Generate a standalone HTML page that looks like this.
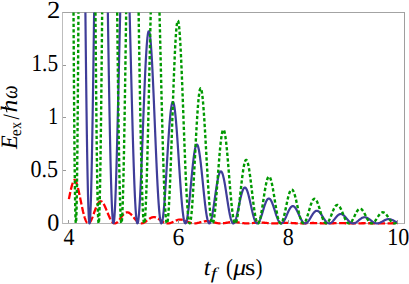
<!DOCTYPE html>
<html><head><meta charset="utf-8"><title>plot</title>
<style>
html,body{margin:0;padding:0;background:#fff;}
svg{display:block;}
text{font-family:"Liberation Serif",serif;fill:#000;}
</style></head>
<body>
<svg width="409" height="284" viewBox="0 0 409 284">
<rect x="0" y="0" width="409" height="284" fill="#ffffff"/>
<g stroke-width="1" fill="none">
<line x1="62.0" y1="12.5" x2="405.0" y2="12.5" stroke="#a3a3a3"/>
<line x1="62.0" y1="223.5" x2="405.0" y2="223.5" stroke="#b5b5b5"/>
<line x1="62.5" y1="12.5" x2="62.5" y2="223.5" stroke="#bdbdbd"/>
<line x1="404.5" y1="12.5" x2="404.5" y2="223.5" stroke="#9e9e9e"/>
</g>
<g fill="none" stroke-linejoin="round">
<path d="M68.90 199.15 L69.02 198.52 L69.15 197.89 L69.27 197.26 L69.39 196.64 L69.52 196.02 L69.64 195.41 L69.76 194.80 L69.89 194.20 L70.01 193.60 L70.13 193.01 L70.26 192.43 L70.38 191.85 L70.50 191.29 L70.63 190.73 L70.75 190.18 L70.87 189.65 L71.00 189.12 L71.12 188.60 L71.24 188.09 L71.37 187.60 L71.49 187.12 L71.65 186.49 L71.82 185.89 L71.98 185.31 L72.15 184.76 L72.31 184.24 L72.48 183.73 L72.64 183.26 L72.80 182.82 L73.01 182.30 L73.22 181.83 L73.42 181.40 L73.67 180.96 L73.91 180.58 L74.20 180.24 L74.53 179.96 L74.98 180.14 L75.27 180.50 L75.52 180.88 L75.76 181.34 L75.97 181.77 L76.18 182.24 L76.38 182.76 L76.55 183.21 L76.71 183.68 L76.87 184.18 L77.04 184.70 L77.20 185.24 L77.37 185.81 L77.53 186.40 L77.70 187.01 L77.86 187.64 L77.98 188.12 L78.11 188.62 L78.23 189.12 L78.35 189.64 L78.48 190.16 L78.60 190.69 L78.72 191.23 L78.85 191.78 L78.97 192.33 L79.09 192.89 L79.22 193.46 L79.34 194.03 L79.46 194.61 L79.59 195.19 L79.71 195.78 L79.83 196.37 L79.96 196.96 L80.08 197.56 L80.20 198.16 L80.33 198.76 L80.45 199.36 L80.57 199.96 L80.70 200.56 L80.82 201.16 L80.94 201.77 L81.07 202.37 L81.19 202.97 L81.31 203.57 L81.44 204.16 L81.56 204.75 L81.68 205.34 L81.81 205.93 L81.93 206.51 L82.05 207.09 L82.18 207.66 L82.30 208.23 L82.42 208.79 L82.55 209.34 L82.67 209.89 L82.79 210.43 L82.92 210.97 L83.04 211.49 L83.16 212.01 L83.29 212.52 L83.41 213.02 L83.53 213.51 L83.66 214.00 L83.82 214.63 L83.99 215.24 L84.15 215.83 L84.31 216.40 L84.48 216.96 L84.64 217.49 L84.81 218.00 L84.97 218.49 L85.14 218.96 L85.30 219.41 L85.51 219.94 L85.71 220.43 L85.92 220.88 L86.12 221.30 L86.37 221.75 L86.62 222.15 L86.90 222.54 L87.19 222.86 L87.52 223.14 L87.93 223.34 L88.51 223.38 L88.96 223.22 L89.33 222.96 L89.66 222.64 L89.95 222.30 L90.23 221.90 L90.48 221.52 L90.73 221.09 L90.97 220.63 L91.18 220.22 L91.38 219.80 L91.59 219.35 L91.80 218.88 L92.00 218.39 L92.21 217.89 L92.41 217.37 L92.62 216.84 L92.82 216.30 L92.99 215.86 L93.15 215.42 L93.32 214.97 L93.48 214.52 L93.65 214.06 L93.81 213.60 L93.97 213.14 L94.14 212.68 L94.30 212.22 L94.47 211.76 L94.63 211.31 L94.80 210.85 L94.96 210.40 L95.13 209.95 L95.29 209.51 L95.45 209.07 L95.66 208.54 L95.86 208.01 L96.07 207.50 L96.28 207.00 L96.48 206.51 L96.69 206.04 L96.89 205.59 L97.10 205.15 L97.30 204.73 L97.51 204.34 L97.76 203.89 L98.00 203.47 L98.25 203.09 L98.54 202.68 L98.82 202.33 L99.15 201.98 L99.48 201.70 L99.85 201.46 L100.30 201.28 L100.88 201.25 L101.37 201.38 L101.78 201.61 L102.11 201.88 L102.44 202.22 L102.73 202.57 L103.02 202.95 L103.26 203.32 L103.51 203.71 L103.76 204.13 L104.00 204.57 L104.25 205.04 L104.46 205.45 L104.66 205.87 L104.87 206.31 L105.07 206.76 L105.28 207.21 L105.48 207.68 L105.69 208.16 L105.89 208.65 L106.10 209.14 L106.31 209.64 L106.51 210.14 L106.72 210.65 L106.92 211.16 L107.13 211.67 L107.33 212.18 L107.54 212.69 L107.74 213.19 L107.95 213.70 L108.16 214.20 L108.36 214.69 L108.57 215.18 L108.77 215.66 L108.98 216.14 L109.18 216.60 L109.39 217.05 L109.59 217.50 L109.80 217.93 L110.01 218.35 L110.21 218.76 L110.46 219.23 L110.70 219.67 L110.95 220.10 L111.20 220.50 L111.44 220.88 L111.69 221.24 L111.98 221.62 L112.27 221.96 L112.59 222.31 L112.92 222.62 L113.29 222.90 L113.70 223.14 L114.16 223.31 L114.69 223.40 L115.27 223.35 L115.76 223.21 L116.17 223.01 L116.58 222.76 L116.95 222.48 L117.28 222.19 L117.61 221.88 L117.94 221.53 L118.23 221.21 L118.51 220.87 L118.80 220.52 L119.09 220.15 L119.38 219.77 L119.66 219.38 L119.95 218.99 L120.24 218.59 L120.53 218.19 L120.82 217.79 L121.10 217.39 L121.39 216.99 L121.68 216.60 L121.97 216.22 L122.25 215.85 L122.54 215.49 L122.83 215.14 L123.12 214.81 L123.41 214.49 L123.73 214.15 L124.06 213.84 L124.39 213.55 L124.76 213.26 L125.13 213.01 L125.54 212.78 L126.00 212.58 L126.49 212.44 L127.02 212.37 L127.64 212.38 L128.17 212.49 L128.63 212.65 L129.04 212.84 L129.45 213.08 L129.82 213.33 L130.19 213.62 L130.52 213.90 L130.85 214.20 L131.17 214.53 L131.50 214.87 L131.79 215.18 L132.08 215.50 L132.37 215.84 L132.65 216.18 L132.94 216.53 L133.23 216.88 L133.52 217.24 L133.81 217.59 L134.09 217.95 L134.38 218.31 L134.67 218.66 L134.96 219.01 L135.24 219.36 L135.53 219.69 L135.82 220.02 L136.11 220.34 L136.44 220.69 L136.76 221.03 L137.09 221.35 L137.42 221.65 L137.75 221.92 L138.12 222.21 L138.49 222.47 L138.90 222.72 L139.31 222.93 L139.77 223.12 L140.26 223.27 L140.79 223.37 L141.37 223.40 L141.94 223.35 L142.48 223.24 L142.97 223.09 L143.42 222.91 L143.83 222.72 L144.25 222.50 L144.66 222.25 L145.03 222.01 L145.40 221.76 L145.77 221.49 L146.14 221.22 L146.51 220.94 L146.88 220.65 L147.25 220.36 L147.62 220.07 L147.99 219.78 L148.36 219.50 L148.73 219.23 L149.10 218.96 L149.47 218.71 L149.84 218.47 L150.25 218.22 L150.66 217.99 L151.07 217.79 L151.52 217.59 L151.97 217.43 L152.47 217.29 L153.00 217.18 L153.58 217.13 L154.19 217.13 L154.77 217.20 L155.30 217.31 L155.80 217.45 L156.25 217.62 L156.70 217.81 L157.11 218.01 L157.52 218.22 L157.93 218.46 L158.34 218.71 L158.71 218.95 L159.08 219.19 L159.45 219.45 L159.82 219.70 L160.19 219.97 L160.56 220.23 L160.93 220.49 L161.30 220.75 L161.67 221.01 L162.04 221.26 L162.41 221.50 L162.78 221.73 L163.20 221.98 L163.61 222.21 L164.02 222.42 L164.43 222.62 L164.88 222.81 L165.33 222.98 L165.83 223.13 L166.32 223.25 L166.85 223.34 L167.43 223.39 L168.05 223.40 L168.62 223.36 L169.16 223.28 L169.69 223.17 L170.18 223.04 L170.68 222.89 L171.13 222.73 L171.58 222.55 L172.03 222.37 L172.48 222.17 L172.94 221.96 L173.35 221.77 L173.76 221.57 L174.17 221.38 L174.58 221.19 L174.99 221.00 L175.44 220.80 L175.90 220.60 L176.35 220.42 L176.80 220.26 L177.25 220.10 L177.75 219.96 L178.24 219.83 L178.77 219.73 L179.31 219.65 L179.88 219.60 L180.50 219.58 L181.12 219.61 L181.69 219.68 L182.23 219.77 L182.72 219.88 L183.21 220.01 L183.71 220.16 L184.16 220.31 L184.61 220.47 L185.06 220.65 L185.52 220.83 L185.97 221.02 L186.42 221.21 L186.87 221.41 L187.32 221.60 L187.78 221.79 L188.23 221.98 L188.68 222.17 L189.13 222.34 L189.58 222.51 L190.04 222.66 L190.53 222.82 L191.02 222.96 L191.52 223.08 L192.05 223.19 L192.59 223.28 L193.16 223.35 L193.74 223.39 L194.35 223.40 L194.97 223.38 L195.54 223.34 L196.12 223.27 L196.65 223.19 L197.19 223.09 L197.72 222.98 L198.22 222.87 L198.71 222.75 L199.20 222.62 L199.70 222.48 L200.19 222.35 L200.68 222.21 L201.18 222.08 L201.67 221.95 L202.16 221.82 L202.66 221.70 L203.15 221.60 L203.68 221.49 L204.22 221.40 L204.75 221.32 L205.33 221.26 L205.90 221.21 L206.52 221.19 L207.14 221.19 L207.75 221.21 L208.33 221.25 L208.90 221.31 L209.44 221.38 L209.97 221.46 L210.51 221.56 L211.04 221.67 L211.53 221.77 L212.03 221.89 L212.52 222.01 L213.01 222.13 L213.51 222.25 L214.00 222.38 L214.49 222.50 L214.99 222.62 L215.48 222.73 L215.97 222.84 L216.51 222.95 L217.04 223.05 L217.58 223.14 L218.11 223.22 L218.69 223.29 L219.26 223.34 L219.84 223.38 L220.45 223.40 L221.07 223.40 L221.69 223.38 L222.26 223.35 L222.84 223.30 L223.41 223.24 L223.99 223.17 L224.52 223.10 L225.06 223.02 L225.59 222.93 L226.13 222.84 L226.66 222.75 L227.20 222.66 L227.73 222.57 L228.26 222.48 L228.80 222.39 L229.33 222.31 L229.87 222.24 L230.44 222.17 L231.02 222.11 L231.59 222.06 L232.17 222.03 L232.79 222.00 L233.40 221.99 L234.02 222.00 L234.64 222.02 L235.21 222.06 L235.79 222.10 L236.36 222.16 L236.94 222.22 L237.47 222.29 L238.01 222.36 L238.54 222.44 L239.08 222.52 L239.61 222.61 L240.14 222.69 L240.68 222.78 L241.21 222.86 L241.75 222.94 L242.28 223.02 L242.82 223.09 L243.35 223.16 L243.93 223.22 L244.50 223.28 L245.08 223.32 L245.65 223.36 L246.23 223.38 L246.84 223.40 L247.46 223.40 L248.08 223.39 L248.69 223.37 L249.27 223.34 L249.84 223.31 L250.42 223.26 L251.00 223.21 L251.57 223.16 L252.15 223.10 L252.72 223.04 L253.30 222.97 L253.87 222.91 L254.45 222.85 L255.02 222.79 L255.60 222.73 L256.18 222.68 L256.75 222.63 L257.33 222.59 L257.90 222.56 L258.48 222.53 L259.09 222.51 L259.71 222.50 L260.33 222.51 L260.94 222.52 L261.56 222.54 L262.14 222.56 L262.71 222.60 L263.29 222.64 L263.86 222.68 L264.44 222.73 L265.01 222.78 L265.59 222.84 L266.16 222.90 L266.74 222.96 L267.31 223.02 L267.89 223.07 L268.47 223.13 L269.04 223.18 L269.62 223.23 L270.19 223.27 L270.77 223.31 L271.34 223.34 L271.92 223.36 L272.53 223.38 L273.15 223.40 L273.77 223.40 L274.38 223.40 L275.00 223.39 L275.62 223.37 L276.23 223.34 L276.81 223.32 L277.39 223.29 L277.96 223.25 L278.54 223.21 L279.11 223.17 L279.69 223.13 L280.26 223.09 L280.84 223.05 L281.41 223.01 L281.99 222.97 L282.56 222.94 L283.14 222.91 L283.72 222.88 L284.33 222.86 L284.95 222.84 L285.57 222.83 L286.18 222.82 L286.80 222.82 L287.41 222.83 L288.03 222.84 L288.65 222.86 L289.26 222.88 L289.84 222.91 L290.42 222.94 L290.99 222.97 L291.57 223.00 L292.14 223.04 L292.72 223.08 L293.29 223.12 L293.87 223.15 L294.44 223.19 L295.02 223.23 L295.59 223.26 L296.17 223.29 L296.75 223.32 L297.36 223.34 L297.98 223.36 L298.60 223.38 L299.21 223.39 L299.83 223.40 L300.45 223.40 L301.06 223.40 L301.68 223.39 L302.29 223.38 L302.91 223.36 L303.53 223.34 L304.14 223.31 L304.76 223.29 L305.34 223.26 L305.91 223.24 L306.49 223.21 L307.06 223.18 L307.64 223.16 L308.21 223.13 L308.83 223.11 L309.45 223.08 L310.06 223.06 L310.68 223.05 L311.30 223.03 L311.91 223.02 L312.53 223.02 L313.15 223.02 L313.76 223.02 L314.38 223.03 L315.00 223.04 L315.61 223.05 L316.23 223.07 L316.85 223.09 L317.46 223.11 L318.08 223.14 L318.70 223.16 L319.27 223.19 L319.85 223.21 L320.42 223.24 L321.04 223.26 L321.66 223.29 L322.27 223.31 L322.89 223.33 L323.51 223.35 L324.12 223.37 L324.74 223.38 L325.35 223.39 L325.97 223.40 L326.59 223.40 L327.20 223.40 L327.82 223.40 L328.44 223.39 L329.05 223.38 L329.67 223.37 L330.29 223.35 L330.90 223.34 L331.52 223.32 L332.14 223.30 L332.75 223.28 L333.37 223.26 L333.99 223.24 L334.60 223.22 L335.22 223.20 L335.84 223.19 L336.45 223.17 L337.07 223.16 L337.69 223.15 L338.30 223.15 L338.92 223.14 L339.54 223.14 L340.15 223.14 L340.77 223.15 L341.39 223.15 L342.00 223.16 L342.62 223.17 L343.24 223.19 L343.85 223.20 L344.47 223.22 L345.09 223.24 L345.70 223.25 L346.32 223.27 L346.94 223.29 L347.55 223.31 L348.17 223.32 L348.78 223.34 L349.40 223.35 L350.02 223.37 L350.63 223.38 L351.25 223.39 L351.87 223.39 L352.48 223.40 L353.10 223.40 L353.72 223.40 L354.33 223.40 L354.95 223.39 L355.57 223.39 L356.18 223.38 L356.80 223.37 L357.42 223.36 L358.03 223.34 L358.65 223.33 L359.27 223.32 L359.88 223.30 L360.50 223.29 L361.12 223.28 L361.73 223.26 L362.35 223.25 L362.97 223.24 L363.58 223.24 L364.20 223.23 L364.82 223.22 L365.43 223.22 L366.05 223.22 L366.67 223.22 L367.28 223.22 L367.90 223.23 L368.52 223.24 L369.13 223.24 L369.75 223.25 L370.37 223.26 L370.98 223.27 L371.60 223.29 L372.21 223.30 L372.83 223.31 L373.45 223.32 L374.06 223.34 L374.68 223.35 L375.30 223.36 L375.91 223.37 L376.53 223.38 L377.15 223.39 L377.76 223.39 L378.38 223.40 L379.00 223.40 L379.61 223.40 L380.23 223.40 L380.85 223.40 L381.46 223.39 L382.08 223.39 L382.70 223.38 L383.31 223.38 L383.93 223.37 L384.55 223.36 L385.16 223.35 L385.78 223.34 L386.40 223.33 L387.01 223.32 L387.63 223.31 L388.25 223.30 L388.86 223.30 L389.48 223.29 L390.10 223.28 L390.71 223.28 L391.33 223.28 L391.95 223.27 L392.56 223.27 L393.18 223.27 L393.80 223.28 L394.41 223.28 L395.03 223.28 L395.64 223.29 L396.26 223.30 L396.88 223.30 L397.49 223.31 L397.70 223.31" stroke="#ff0000" stroke-width="2.3" stroke-dasharray="7.2 2.5" stroke-dashoffset="0"/>
<path d="M85.41 12.50 L85.42 13.96 L85.47 17.97 L85.51 21.96 L85.55 25.92 L85.59 29.84 L85.63 33.73 L85.67 37.59 L85.71 41.42 L85.75 45.21 L85.79 48.97 L85.84 52.70 L85.88 56.39 L85.92 60.04 L85.96 63.67 L86.00 67.25 L86.04 70.81 L86.08 74.32 L86.12 77.80 L86.16 81.25 L86.21 84.65 L86.25 88.02 L86.29 91.36 L86.33 94.65 L86.37 97.91 L86.41 101.13 L86.45 104.31 L86.49 107.46 L86.53 110.56 L86.58 113.63 L86.62 116.66 L86.66 119.65 L86.70 122.59 L86.74 125.50 L86.78 128.37 L86.82 131.20 L86.86 133.99 L86.90 136.74 L86.95 139.45 L86.99 142.11 L87.03 144.74 L87.07 147.32 L87.11 149.86 L87.15 152.37 L87.19 154.83 L87.23 157.24 L87.27 159.62 L87.32 161.95 L87.36 164.24 L87.40 166.49 L87.44 168.70 L87.48 170.86 L87.52 172.98 L87.56 175.06 L87.60 177.09 L87.64 179.09 L87.69 181.03 L87.73 182.94 L87.77 184.80 L87.81 186.62 L87.85 188.39 L87.89 190.12 L87.93 191.81 L87.97 193.45 L88.01 195.05 L88.05 196.61 L88.10 198.12 L88.14 199.59 L88.18 201.01 L88.22 202.39 L88.26 203.73 L88.30 205.02 L88.34 206.27 L88.38 207.47 L88.42 208.63 L88.47 209.74 L88.51 210.82 L88.55 211.84 L88.59 212.83 L88.63 213.76 L88.67 214.66 L88.71 215.51 L88.75 216.32 L88.79 217.08 L88.84 217.80 L88.88 218.48 L88.92 219.11 L88.96 219.70 L89.04 220.74 L89.12 221.61 L89.21 222.31 L89.29 222.84 L89.45 223.37 L89.70 222.91 L89.82 222.11 L89.90 221.37 L89.99 220.47 L90.07 219.41 L90.11 218.82 L90.15 218.19 L90.19 217.51 L90.23 216.80 L90.27 216.05 L90.32 215.27 L90.36 214.44 L90.40 213.57 L90.44 212.67 L90.48 211.72 L90.52 210.74 L90.56 209.72 L90.60 208.67 L90.64 207.57 L90.69 206.44 L90.73 205.28 L90.77 204.07 L90.81 202.83 L90.85 201.56 L90.89 200.25 L90.93 198.90 L90.97 197.52 L91.01 196.10 L91.06 194.65 L91.10 193.16 L91.14 191.64 L91.18 190.09 L91.22 188.50 L91.26 186.88 L91.30 185.23 L91.34 183.54 L91.38 181.82 L91.43 180.07 L91.47 178.29 L91.51 176.48 L91.55 174.63 L91.59 172.76 L91.63 170.85 L91.67 168.92 L91.71 166.95 L91.75 164.96 L91.80 162.93 L91.84 160.88 L91.88 158.80 L91.92 156.69 L91.96 154.56 L92.00 152.39 L92.04 150.20 L92.08 147.98 L92.12 145.74 L92.17 143.47 L92.21 141.17 L92.25 138.85 L92.29 136.51 L92.33 134.14 L92.37 131.74 L92.41 129.32 L92.45 126.88 L92.49 124.42 L92.54 121.93 L92.58 119.42 L92.62 116.89 L92.66 114.34 L92.70 111.76 L92.74 109.17 L92.78 106.55 L92.82 103.92 L92.86 101.26 L92.91 98.59 L92.95 95.89 L92.99 93.18 L93.03 90.45 L93.07 87.71 L93.11 84.94 L93.15 82.16 L93.19 79.36 L93.23 76.55 L93.28 73.72 L93.32 70.87 L93.36 68.01 L93.40 65.14 L93.44 62.25 L93.48 59.35 L93.52 56.43 L93.56 53.51 L93.60 50.56 L93.65 47.61 L93.69 44.65 L93.73 41.67 L93.77 38.69 L93.81 35.69 L93.85 32.68 L93.89 29.67 L93.93 26.64 L93.97 23.61 L94.02 20.56 L94.06 17.51 L94.10 14.45 L94.12 12.50 M107.86 12.50 L107.87 13.21 L107.91 15.91 L107.95 18.61 L107.99 21.30 L108.03 23.98 L108.07 26.65 L108.11 29.32 L108.16 31.97 L108.20 34.61 L108.24 37.25 L108.28 39.87 L108.32 42.48 L108.36 45.09 L108.40 47.68 L108.44 50.26 L108.48 52.83 L108.53 55.38 L108.57 57.93 L108.61 60.46 L108.65 62.98 L108.69 65.49 L108.73 67.99 L108.77 70.47 L108.81 72.93 L108.85 75.39 L108.90 77.83 L108.94 80.26 L108.98 82.67 L109.02 85.06 L109.06 87.45 L109.10 89.81 L109.14 92.17 L109.18 94.50 L109.22 96.82 L109.27 99.13 L109.31 101.42 L109.35 103.69 L109.39 105.94 L109.43 108.18 L109.47 110.40 L109.51 112.61 L109.55 114.80 L109.59 116.97 L109.64 119.12 L109.68 121.25 L109.72 123.37 L109.76 125.47 L109.80 127.54 L109.84 129.61 L109.88 131.65 L109.92 133.67 L109.96 135.67 L110.01 137.66 L110.05 139.62 L110.09 141.56 L110.13 143.49 L110.17 145.39 L110.21 147.28 L110.25 149.14 L110.29 150.98 L110.33 152.81 L110.38 154.61 L110.42 156.39 L110.46 158.15 L110.50 159.89 L110.54 161.60 L110.58 163.30 L110.62 164.97 L110.66 166.62 L110.70 168.25 L110.75 169.86 L110.79 171.45 L110.83 173.01 L110.87 174.55 L110.91 176.07 L110.95 177.56 L110.99 179.04 L111.03 180.49 L111.07 181.91 L111.11 183.32 L111.16 184.70 L111.20 186.05 L111.24 187.39 L111.28 188.70 L111.32 189.99 L111.36 191.25 L111.40 192.49 L111.44 193.71 L111.48 194.90 L111.53 196.07 L111.57 197.21 L111.61 198.33 L111.65 199.43 L111.69 200.50 L111.73 201.55 L111.77 202.57 L111.81 203.57 L111.85 204.55 L111.90 205.50 L111.94 206.42 L111.98 207.33 L112.02 208.20 L112.06 209.06 L112.10 209.88 L112.14 210.69 L112.18 211.47 L112.22 212.22 L112.27 212.95 L112.31 213.66 L112.35 214.34 L112.39 214.99 L112.43 215.62 L112.47 216.23 L112.51 216.81 L112.59 217.90 L112.68 218.89 L112.76 219.78 L112.84 220.57 L112.92 221.27 L113.01 221.86 L113.13 222.57 L113.25 223.06 L113.75 222.87 L113.87 222.29 L113.99 221.50 L114.07 220.86 L114.16 220.13 L114.24 219.31 L114.32 218.40 L114.40 217.40 L114.49 216.32 L114.53 215.74 L114.57 215.15 L114.61 214.53 L114.65 213.89 L114.69 213.23 L114.73 212.55 L114.77 211.85 L114.81 211.13 L114.86 210.39 L114.90 209.63 L114.94 208.85 L114.98 208.05 L115.02 207.23 L115.06 206.38 L115.10 205.52 L115.14 204.64 L115.18 203.75 L115.23 202.83 L115.27 201.89 L115.31 200.94 L115.35 199.96 L115.39 198.97 L115.43 197.96 L115.47 196.93 L115.51 195.89 L115.55 194.82 L115.60 193.74 L115.64 192.64 L115.68 191.53 L115.72 190.39 L115.76 189.24 L115.80 188.08 L115.84 186.90 L115.88 185.70 L115.92 184.48 L115.97 183.25 L116.01 182.01 L116.05 180.75 L116.09 179.47 L116.13 178.18 L116.17 176.87 L116.21 175.55 L116.25 174.22 L116.29 172.87 L116.34 171.51 L116.38 170.13 L116.42 168.74 L116.46 167.33 L116.50 165.92 L116.54 164.49 L116.58 163.04 L116.62 161.59 L116.66 160.12 L116.71 158.64 L116.75 157.15 L116.79 155.64 L116.83 154.13 L116.87 152.60 L116.91 151.07 L116.95 149.52 L116.99 147.96 L117.03 146.39 L117.08 144.81 L117.12 143.22 L117.16 141.62 L117.20 140.01 L117.24 138.40 L117.28 136.77 L117.32 135.13 L117.36 133.49 L117.40 131.84 L117.45 130.18 L117.49 128.51 L117.53 126.83 L117.57 125.15 L117.61 123.46 L117.65 121.76 L117.69 120.06 L117.73 118.35 L117.77 116.63 L117.82 114.91 L117.86 113.18 L117.90 111.44 L117.94 109.70 L117.98 107.96 L118.02 106.21 L118.06 104.45 L118.10 102.70 L118.14 100.93 L118.19 99.17 L118.23 97.40 L118.27 95.62 L118.31 93.84 L118.35 92.06 L118.39 90.28 L118.43 88.49 L118.47 86.71 L118.51 84.91 L118.56 83.12 L118.60 81.33 L118.64 79.53 L118.68 77.74 L118.72 75.94 L118.76 74.14 L118.80 72.34 L118.84 70.54 L118.88 68.75 L118.92 66.95 L118.97 65.15 L119.01 63.35 L119.05 61.55 L119.09 59.76 L119.13 57.97 L119.17 56.17 L119.21 54.38 L119.25 52.59 L119.29 50.81 L119.34 49.02 L119.38 47.24 L119.42 45.46 L119.46 43.69 L119.50 41.92 L119.54 40.15 L119.58 38.38 L119.62 36.62 L119.66 34.87 L119.71 33.11 L119.75 31.37 L119.79 29.62 L119.83 27.89 L119.87 26.15 L119.91 24.43 L119.95 22.71 L119.99 20.99 L120.03 19.28 L120.08 17.58 L120.12 15.89 L120.16 14.20 L120.20 12.51 L120.20 12.50 M129.61 12.50 L129.65 14.19 L129.69 15.76 L129.74 17.33 L129.78 18.91 L129.82 20.49 L129.86 22.08 L129.90 23.67 L129.94 25.27 L129.98 26.87 L130.02 28.47 L130.06 30.08 L130.11 31.68 L130.15 33.30 L130.19 34.91 L130.23 36.53 L130.27 38.15 L130.31 39.77 L130.35 41.40 L130.39 43.02 L130.43 44.65 L130.48 46.28 L130.52 47.91 L130.56 49.55 L130.60 51.18 L130.64 52.81 L130.68 54.45 L130.72 56.08 L130.76 57.72 L130.80 59.36 L130.85 60.99 L130.89 62.63 L130.93 64.26 L130.97 65.90 L131.01 67.53 L131.05 69.17 L131.09 70.80 L131.13 72.43 L131.17 74.06 L131.22 75.69 L131.26 77.31 L131.30 78.94 L131.34 80.56 L131.38 82.18 L131.42 83.80 L131.46 85.41 L131.50 87.02 L131.54 88.63 L131.59 90.24 L131.63 91.84 L131.67 93.44 L131.71 95.03 L131.75 96.62 L131.79 98.21 L131.83 99.80 L131.87 101.37 L131.91 102.95 L131.96 104.52 L132.00 106.08 L132.04 107.65 L132.08 109.20 L132.12 110.75 L132.16 112.30 L132.20 113.83 L132.24 115.37 L132.28 116.89 L132.33 118.42 L132.37 119.93 L132.41 121.44 L132.45 122.94 L132.49 124.44 L132.53 125.93 L132.57 127.41 L132.61 128.88 L132.65 130.35 L132.70 131.81 L132.74 133.27 L132.78 134.71 L132.82 136.15 L132.86 137.58 L132.90 139.00 L132.94 140.41 L132.98 141.82 L133.02 143.21 L133.07 144.60 L133.11 145.98 L133.15 147.35 L133.19 148.71 L133.23 150.06 L133.27 151.41 L133.31 152.74 L133.35 154.06 L133.39 155.38 L133.44 156.68 L133.48 157.98 L133.52 159.26 L133.56 160.53 L133.60 161.80 L133.64 163.05 L133.68 164.30 L133.72 165.53 L133.76 166.75 L133.81 167.96 L133.85 169.16 L133.89 170.35 L133.93 171.53 L133.97 172.69 L134.01 173.85 L134.05 174.99 L134.09 176.13 L134.13 177.25 L134.17 178.36 L134.22 179.45 L134.26 180.54 L134.30 181.61 L134.34 182.67 L134.38 183.72 L134.42 184.76 L134.46 185.78 L134.50 186.79 L134.54 187.79 L134.59 188.78 L134.63 189.75 L134.67 190.72 L134.71 191.66 L134.75 192.60 L134.79 193.52 L134.83 194.43 L134.87 195.33 L134.91 196.21 L134.96 197.08 L135.00 197.94 L135.04 198.78 L135.08 199.61 L135.12 200.42 L135.16 201.23 L135.20 202.01 L135.24 202.79 L135.28 203.55 L135.33 204.30 L135.37 205.03 L135.41 205.75 L135.45 206.45 L135.49 207.15 L135.53 207.82 L135.57 208.49 L135.61 209.14 L135.65 209.77 L135.70 210.39 L135.74 211.00 L135.78 211.59 L135.82 212.17 L135.86 212.73 L135.94 213.82 L136.02 214.84 L136.11 215.81 L136.19 216.72 L136.27 217.57 L136.35 218.37 L136.44 219.10 L136.52 219.78 L136.60 220.40 L136.68 220.96 L136.81 221.69 L136.93 222.29 L137.09 222.89 L137.30 223.32 L137.71 223.10 L137.87 222.62 L138.00 222.11 L138.12 221.49 L138.24 220.74 L138.33 220.18 L138.41 219.56 L138.49 218.89 L138.57 218.18 L138.66 217.41 L138.74 216.59 L138.82 215.72 L138.90 214.81 L138.98 213.84 L139.07 212.83 L139.15 211.77 L139.23 210.67 L139.27 210.10 L139.31 209.52 L139.35 208.93 L139.40 208.33 L139.44 207.72 L139.48 207.10 L139.52 206.46 L139.56 205.82 L139.60 205.17 L139.64 204.50 L139.68 203.83 L139.72 203.14 L139.77 202.45 L139.81 201.74 L139.85 201.03 L139.89 200.30 L139.93 199.57 L139.97 198.82 L140.01 198.07 L140.05 197.31 L140.09 196.54 L140.14 195.76 L140.18 194.97 L140.22 194.17 L140.26 193.37 L140.30 192.55 L140.34 191.73 L140.38 190.90 L140.42 190.06 L140.46 189.21 L140.51 188.36 L140.55 187.49 L140.59 186.62 L140.63 185.75 L140.67 184.86 L140.71 183.97 L140.75 183.07 L140.79 182.16 L140.83 181.25 L140.88 180.33 L140.92 179.40 L140.96 178.47 L141.00 177.53 L141.04 176.58 L141.08 175.63 L141.12 174.67 L141.16 173.71 L141.20 172.74 L141.25 171.76 L141.29 170.78 L141.33 169.80 L141.37 168.80 L141.41 167.81 L141.45 166.81 L141.49 165.80 L141.53 164.79 L141.57 163.78 L141.61 162.76 L141.66 161.73 L141.70 160.71 L141.74 159.68 L141.78 158.64 L141.82 157.60 L141.86 156.56 L141.90 155.51 L141.94 154.46 L141.98 153.41 L142.03 152.36 L142.07 151.30 L142.11 150.24 L142.15 149.18 L142.19 148.11 L142.23 147.04 L142.27 145.97 L142.31 144.90 L142.35 143.83 L142.40 142.75 L142.44 141.68 L142.48 140.60 L142.52 139.52 L142.56 138.44 L142.60 137.35 L142.64 136.27 L142.68 135.19 L142.72 134.10 L142.77 133.02 L142.81 131.94 L142.85 130.85 L142.89 129.76 L142.93 128.68 L142.97 127.60 L143.01 126.51 L143.05 125.43 L143.09 124.34 L143.14 123.26 L143.18 122.18 L143.22 121.10 L143.26 120.02 L143.30 118.94 L143.34 117.86 L143.38 116.79 L143.42 115.72 L143.46 114.64 L143.51 113.57 L143.55 112.51 L143.59 111.44 L143.63 110.38 L143.67 109.32 L143.71 108.26 L143.75 107.20 L143.79 106.15 L143.83 105.10 L143.88 104.06 L143.92 103.01 L143.96 101.98 L144.00 100.94 L144.04 99.91 L144.08 98.88 L144.12 97.85 L144.16 96.83 L144.20 95.82 L144.25 94.80 L144.29 93.80 L144.33 92.79 L144.37 91.79 L144.41 90.80 L144.45 89.81 L144.49 88.83 L144.53 87.85 L144.57 86.87 L144.62 85.91 L144.66 84.94 L144.70 83.98 L144.74 83.03 L144.78 82.09 L144.82 81.15 L144.86 80.21 L144.90 79.28 L144.94 78.36 L144.99 77.45 L145.03 76.54 L145.07 75.63 L145.11 74.74 L145.15 73.85 L145.19 72.96 L145.23 72.09 L145.27 71.22 L145.31 70.36 L145.36 69.50 L145.40 68.66 L145.44 67.82 L145.48 66.99 L145.52 66.16 L145.56 65.34 L145.60 64.54 L145.64 63.73 L145.68 62.94 L145.73 62.16 L145.77 61.38 L145.81 60.61 L145.85 59.85 L145.89 59.10 L145.93 58.36 L145.97 57.62 L146.01 56.89 L146.05 56.18 L146.10 55.47 L146.14 54.77 L146.18 54.08 L146.22 53.40 L146.26 52.72 L146.30 52.06 L146.34 51.41 L146.38 50.76 L146.42 50.13 L146.47 49.50 L146.51 48.89 L146.55 48.28 L146.59 47.68 L146.63 47.09 L146.67 46.52 L146.71 45.95 L146.79 44.84 L146.88 43.78 L146.96 42.75 L147.04 41.77 L147.12 40.83 L147.21 39.93 L147.29 39.07 L147.37 38.25 L147.45 37.48 L147.53 36.75 L147.62 36.06 L147.70 35.42 L147.78 34.82 L147.86 34.26 L147.99 33.51 L148.11 32.86 L148.23 32.31 L148.40 31.74 L148.60 31.27 L149.14 31.36 L149.34 31.89 L149.51 32.52 L149.63 33.10 L149.75 33.78 L149.88 34.56 L149.96 35.13 L150.04 35.75 L150.12 36.40 L150.21 37.10 L150.29 37.83 L150.37 38.61 L150.45 39.43 L150.53 40.28 L150.62 41.18 L150.70 42.12 L150.78 43.09 L150.86 44.10 L150.95 45.15 L151.03 46.23 L151.11 47.35 L151.15 47.93 L151.19 48.51 L151.23 49.10 L151.27 49.70 L151.32 50.31 L151.36 50.92 L151.40 51.55 L151.44 52.18 L151.48 52.83 L151.52 53.48 L151.56 54.13 L151.60 54.80 L151.64 55.47 L151.69 56.16 L151.73 56.85 L151.77 57.54 L151.81 58.25 L151.85 58.96 L151.89 59.68 L151.93 60.41 L151.97 61.14 L152.01 61.89 L152.06 62.64 L152.10 63.39 L152.14 64.15 L152.18 64.92 L152.22 65.70 L152.26 66.48 L152.30 67.27 L152.34 68.07 L152.38 68.87 L152.43 69.68 L152.47 70.50 L152.51 71.32 L152.55 72.14 L152.59 72.98 L152.63 73.81 L152.67 74.66 L152.71 75.51 L152.75 76.36 L152.80 77.22 L152.84 78.09 L152.88 78.96 L152.92 79.84 L152.96 80.72 L153.00 81.60 L153.04 82.49 L153.08 83.39 L153.12 84.29 L153.17 85.19 L153.21 86.10 L153.25 87.01 L153.29 87.93 L153.33 88.85 L153.37 89.78 L153.41 90.71 L153.45 91.64 L153.49 92.58 L153.54 93.51 L153.58 94.46 L153.62 95.40 L153.66 96.35 L153.70 97.31 L153.74 98.26 L153.78 99.22 L153.82 100.18 L153.86 101.15 L153.91 102.11 L153.95 103.08 L153.99 104.05 L154.03 105.02 L154.07 106.00 L154.11 106.98 L154.15 107.96 L154.19 108.94 L154.23 109.92 L154.28 110.90 L154.32 111.89 L154.36 112.88 L154.40 113.87 L154.44 114.86 L154.48 115.85 L154.52 116.84 L154.56 117.83 L154.60 118.82 L154.65 119.82 L154.69 120.81 L154.73 121.80 L154.77 122.80 L154.81 123.79 L154.85 124.79 L154.89 125.78 L154.93 126.78 L154.97 127.77 L155.02 128.76 L155.06 129.76 L155.10 130.75 L155.14 131.74 L155.18 132.73 L155.22 133.72 L155.26 134.71 L155.30 135.70 L155.34 136.69 L155.39 137.67 L155.43 138.66 L155.47 139.64 L155.51 140.62 L155.55 141.60 L155.59 142.58 L155.63 143.55 L155.67 144.52 L155.71 145.49 L155.76 146.46 L155.80 147.43 L155.84 148.39 L155.88 149.35 L155.92 150.31 L155.96 151.27 L156.00 152.22 L156.04 153.17 L156.08 154.12 L156.13 155.06 L156.17 156.00 L156.21 156.94 L156.25 157.87 L156.29 158.80 L156.33 159.73 L156.37 160.65 L156.41 161.57 L156.45 162.49 L156.50 163.40 L156.54 164.30 L156.58 165.21 L156.62 166.10 L156.66 167.00 L156.70 167.89 L156.74 168.77 L156.78 169.65 L156.82 170.53 L156.86 171.40 L156.91 172.26 L156.95 173.12 L156.99 173.98 L157.03 174.83 L157.07 175.68 L157.11 176.52 L157.15 177.35 L157.19 178.18 L157.23 179.00 L157.28 179.82 L157.32 180.63 L157.36 181.44 L157.40 182.24 L157.44 183.03 L157.48 183.82 L157.52 184.60 L157.56 185.38 L157.60 186.15 L157.65 186.91 L157.69 187.67 L157.73 188.42 L157.77 189.16 L157.81 189.90 L157.85 190.63 L157.89 191.36 L157.93 192.07 L157.97 192.78 L158.02 193.49 L158.06 194.18 L158.10 194.87 L158.14 195.56 L158.18 196.23 L158.22 196.90 L158.26 197.56 L158.30 198.21 L158.34 198.86 L158.39 199.50 L158.43 200.13 L158.47 200.75 L158.51 201.37 L158.55 201.97 L158.59 202.57 L158.63 203.17 L158.67 203.75 L158.71 204.33 L158.76 204.89 L158.80 205.46 L158.88 206.55 L158.96 207.62 L159.04 208.65 L159.13 209.65 L159.21 210.61 L159.29 211.54 L159.37 212.44 L159.45 213.30 L159.54 214.13 L159.62 214.93 L159.70 215.69 L159.78 216.41 L159.87 217.10 L159.95 217.75 L160.03 218.37 L160.11 218.96 L160.19 219.50 L160.32 220.26 L160.44 220.93 L160.56 221.52 L160.69 222.03 L160.85 222.58 L161.06 223.08 L161.35 223.39 L161.72 223.16 L161.92 222.73 L162.09 222.23 L162.25 221.60 L162.37 221.05 L162.50 220.42 L162.62 219.71 L162.74 218.94 L162.83 218.39 L162.91 217.81 L162.99 217.20 L163.07 216.55 L163.15 215.88 L163.24 215.19 L163.32 214.46 L163.40 213.71 L163.48 212.93 L163.57 212.12 L163.65 211.29 L163.73 210.43 L163.81 209.54 L163.89 208.64 L163.98 207.71 L164.06 206.75 L164.14 205.77 L164.22 204.77 L164.31 203.75 L164.39 202.71 L164.47 201.65 L164.55 200.57 L164.63 199.47 L164.72 198.35 L164.76 197.78 L164.80 197.21 L164.84 196.64 L164.88 196.06 L164.92 195.48 L164.96 194.89 L165.00 194.30 L165.04 193.70 L165.09 193.11 L165.13 192.50 L165.17 191.90 L165.21 191.29 L165.25 190.67 L165.29 190.06 L165.33 189.44 L165.37 188.81 L165.41 188.19 L165.46 187.56 L165.50 186.93 L165.54 186.29 L165.58 185.65 L165.62 185.01 L165.66 184.37 L165.70 183.72 L165.74 183.07 L165.78 182.42 L165.83 181.77 L165.87 181.12 L165.91 180.46 L165.95 179.80 L165.99 179.14 L166.03 178.47 L166.07 177.81 L166.11 177.14 L166.15 176.47 L166.20 175.80 L166.24 175.13 L166.28 174.46 L166.32 173.79 L166.36 173.11 L166.40 172.43 L166.44 171.76 L166.48 171.08 L166.52 170.40 L166.57 169.72 L166.61 169.04 L166.65 168.36 L166.69 167.68 L166.73 167.00 L166.77 166.32 L166.81 165.63 L166.85 164.95 L166.89 164.27 L166.94 163.59 L166.98 162.90 L167.02 162.22 L167.06 161.54 L167.10 160.86 L167.14 160.18 L167.18 159.50 L167.22 158.82 L167.26 158.14 L167.31 157.46 L167.35 156.78 L167.39 156.11 L167.43 155.43 L167.47 154.76 L167.51 154.08 L167.55 153.41 L167.59 152.74 L167.63 152.07 L167.68 151.41 L167.72 150.74 L167.76 150.08 L167.80 149.41 L167.84 148.75 L167.88 148.09 L167.92 147.44 L167.96 146.78 L168.00 146.13 L168.05 145.48 L168.09 144.83 L168.13 144.19 L168.17 143.55 L168.21 142.91 L168.25 142.27 L168.29 141.63 L168.33 141.00 L168.37 140.37 L168.42 139.75 L168.46 139.12 L168.50 138.50 L168.54 137.89 L168.58 137.27 L168.62 136.66 L168.66 136.06 L168.70 135.45 L168.74 134.85 L168.79 134.26 L168.83 133.67 L168.87 133.08 L168.91 132.49 L168.95 131.91 L168.99 131.33 L169.03 130.76 L169.07 130.19 L169.11 129.63 L169.16 129.07 L169.24 127.96 L169.32 126.87 L169.40 125.79 L169.48 124.74 L169.57 123.70 L169.65 122.69 L169.73 121.69 L169.81 120.71 L169.90 119.76 L169.98 118.83 L170.06 117.92 L170.14 117.03 L170.22 116.16 L170.31 115.31 L170.39 114.49 L170.47 113.70 L170.55 112.92 L170.64 112.17 L170.72 111.45 L170.80 110.75 L170.88 110.08 L170.96 109.43 L171.05 108.80 L171.13 108.21 L171.21 107.64 L171.29 107.09 L171.42 106.32 L171.54 105.62 L171.66 104.97 L171.79 104.39 L171.91 103.87 L172.07 103.28 L172.24 102.79 L172.44 102.35 L172.73 102.02 L173.18 102.22 L173.43 102.68 L173.59 103.13 L173.76 103.69 L173.88 104.18 L174.01 104.73 L174.13 105.33 L174.25 106.00 L174.38 106.73 L174.50 107.51 L174.58 108.06 L174.66 108.64 L174.75 109.24 L174.83 109.87 L174.91 110.52 L174.99 111.19 L175.07 111.88 L175.16 112.60 L175.24 113.34 L175.32 114.11 L175.40 114.89 L175.49 115.70 L175.57 116.52 L175.65 117.37 L175.73 118.23 L175.81 119.12 L175.90 120.03 L175.98 120.95 L176.06 121.89 L176.14 122.85 L176.23 123.83 L176.31 124.82 L176.39 125.83 L176.47 126.86 L176.55 127.90 L176.64 128.96 L176.72 130.03 L176.80 131.11 L176.88 132.21 L176.97 133.32 L177.01 133.88 L177.05 134.44 L177.09 135.01 L177.13 135.58 L177.17 136.15 L177.21 136.72 L177.25 137.30 L177.29 137.88 L177.34 138.46 L177.38 139.05 L177.42 139.64 L177.46 140.23 L177.50 140.82 L177.54 141.41 L177.58 142.01 L177.62 142.61 L177.66 143.21 L177.71 143.81 L177.75 144.42 L177.79 145.02 L177.83 145.63 L177.87 146.24 L177.91 146.85 L177.95 147.46 L177.99 148.08 L178.03 148.69 L178.08 149.31 L178.12 149.93 L178.16 150.55 L178.20 151.17 L178.24 151.79 L178.28 152.41 L178.32 153.04 L178.36 153.66 L178.40 154.29 L178.45 154.91 L178.49 155.54 L178.53 156.17 L178.57 156.80 L178.61 157.42 L178.65 158.05 L178.69 158.68 L178.73 159.31 L178.77 159.94 L178.82 160.57 L178.86 161.20 L178.90 161.83 L178.94 162.46 L178.98 163.09 L179.02 163.72 L179.06 164.35 L179.10 164.97 L179.14 165.60 L179.19 166.23 L179.23 166.86 L179.27 167.48 L179.31 168.11 L179.35 168.73 L179.39 169.36 L179.43 169.98 L179.47 170.60 L179.51 171.22 L179.56 171.84 L179.60 172.46 L179.64 173.08 L179.68 173.69 L179.72 174.31 L179.76 174.92 L179.80 175.53 L179.84 176.14 L179.88 176.75 L179.92 177.36 L179.97 177.96 L180.01 178.57 L180.05 179.17 L180.09 179.77 L180.13 180.36 L180.17 180.96 L180.21 181.55 L180.25 182.14 L180.29 182.73 L180.34 183.32 L180.38 183.90 L180.42 184.48 L180.46 185.06 L180.50 185.64 L180.54 186.21 L180.58 186.78 L180.62 187.35 L180.66 187.92 L180.71 188.48 L180.75 189.04 L180.83 190.15 L180.91 191.25 L180.99 192.34 L181.08 193.41 L181.16 194.47 L181.24 195.51 L181.32 196.55 L181.40 197.56 L181.49 198.56 L181.57 199.55 L181.65 200.52 L181.73 201.47 L181.82 202.41 L181.90 203.33 L181.98 204.23 L182.06 205.11 L182.14 205.98 L182.23 206.83 L182.31 207.66 L182.39 208.47 L182.47 209.26 L182.56 210.03 L182.64 210.79 L182.72 211.52 L182.80 212.23 L182.88 212.92 L182.97 213.59 L183.05 214.24 L183.13 214.87 L183.21 215.48 L183.30 216.06 L183.38 216.63 L183.46 217.17 L183.54 217.69 L183.67 218.43 L183.79 219.12 L183.91 219.76 L184.04 220.34 L184.16 220.88 L184.28 221.36 L184.45 221.93 L184.61 222.40 L184.82 222.87 L185.06 223.23 L185.56 223.35 L185.89 222.98 L186.09 222.57 L186.30 222.03 L186.46 221.50 L186.63 220.89 L186.75 220.39 L186.87 219.83 L187.00 219.24 L187.12 218.60 L187.24 217.92 L187.37 217.20 L187.49 216.44 L187.57 215.91 L187.65 215.37 L187.73 214.81 L187.82 214.23 L187.90 213.64 L187.98 213.04 L188.06 212.42 L188.15 211.78 L188.23 211.13 L188.31 210.46 L188.39 209.79 L188.47 209.10 L188.56 208.39 L188.64 207.68 L188.72 206.95 L188.80 206.21 L188.89 205.46 L188.97 204.70 L189.05 203.93 L189.13 203.15 L189.21 202.36 L189.30 201.56 L189.38 200.76 L189.46 199.94 L189.54 199.12 L189.63 198.29 L189.71 197.45 L189.79 196.61 L189.87 195.76 L189.95 194.91 L190.04 194.05 L190.12 193.18 L190.20 192.31 L190.28 191.44 L190.37 190.57 L190.45 189.69 L190.53 188.81 L190.61 187.93 L190.69 187.04 L190.78 186.16 L190.86 185.27 L190.94 184.39 L191.02 183.50 L191.11 182.62 L191.19 181.74 L191.27 180.86 L191.35 179.98 L191.43 179.10 L191.52 178.23 L191.60 177.36 L191.68 176.49 L191.76 175.63 L191.85 174.77 L191.93 173.92 L192.01 173.07 L192.09 172.23 L192.17 171.39 L192.26 170.57 L192.34 169.75 L192.42 168.93 L192.50 168.13 L192.59 167.33 L192.67 166.54 L192.75 165.76 L192.83 164.99 L192.91 164.23 L193.00 163.47 L193.08 162.73 L193.16 162.00 L193.24 161.28 L193.33 160.58 L193.41 159.88 L193.49 159.20 L193.57 158.53 L193.65 157.87 L193.74 157.22 L193.82 156.59 L193.90 155.97 L193.98 155.36 L194.07 154.77 L194.15 154.19 L194.23 153.63 L194.31 153.08 L194.39 152.55 L194.52 151.78 L194.64 151.05 L194.76 150.35 L194.89 149.69 L195.01 149.06 L195.13 148.47 L195.26 147.92 L195.38 147.41 L195.54 146.80 L195.71 146.25 L195.87 145.77 L196.08 145.28 L196.33 144.83 L196.65 144.51 L197.19 144.63 L197.48 145.01 L197.68 145.41 L197.89 145.93 L198.05 146.42 L198.22 146.98 L198.38 147.61 L198.50 148.13 L198.63 148.68 L198.75 149.26 L198.87 149.88 L199.00 150.54 L199.12 151.23 L199.24 151.95 L199.37 152.70 L199.45 153.22 L199.53 153.76 L199.61 154.30 L199.70 154.86 L199.78 155.44 L199.86 156.02 L199.94 156.62 L200.03 157.23 L200.11 157.85 L200.19 158.48 L200.27 159.13 L200.35 159.78 L200.44 160.45 L200.52 161.12 L200.60 161.81 L200.68 162.50 L200.77 163.20 L200.85 163.92 L200.93 164.64 L201.01 165.36 L201.09 166.10 L201.18 166.85 L201.26 167.60 L201.34 168.35 L201.42 169.12 L201.51 169.89 L201.59 170.67 L201.67 171.45 L201.75 172.23 L201.83 173.03 L201.92 173.82 L202.00 174.62 L202.08 175.42 L202.16 176.23 L202.25 177.04 L202.33 177.85 L202.41 178.67 L202.49 179.48 L202.57 180.30 L202.66 181.12 L202.74 181.94 L202.82 182.76 L202.90 183.58 L202.98 184.39 L203.07 185.21 L203.15 186.03 L203.23 186.85 L203.31 187.66 L203.40 188.47 L203.48 189.28 L203.56 190.09 L203.64 190.89 L203.72 191.69 L203.81 192.49 L203.89 193.28 L203.97 194.07 L204.05 194.85 L204.14 195.63 L204.22 196.40 L204.30 197.17 L204.38 197.93 L204.46 198.68 L204.55 199.43 L204.63 200.17 L204.71 200.91 L204.79 201.63 L204.88 202.35 L204.96 203.06 L205.04 203.76 L205.12 204.45 L205.20 205.13 L205.29 205.81 L205.37 206.47 L205.45 207.12 L205.53 207.77 L205.62 208.40 L205.70 209.02 L205.78 209.64 L205.86 210.24 L205.94 210.83 L206.03 211.41 L206.11 211.97 L206.19 212.53 L206.27 213.07 L206.36 213.60 L206.44 214.12 L206.56 214.87 L206.68 215.60 L206.81 216.29 L206.93 216.95 L207.05 217.59 L207.18 218.19 L207.30 218.76 L207.42 219.30 L207.55 219.81 L207.71 220.43 L207.88 221.00 L208.04 221.50 L208.21 221.95 L208.41 222.43 L208.66 222.87 L208.95 223.22 L209.40 223.40 L209.81 223.17 L210.10 222.80 L210.34 222.35 L210.55 221.88 L210.71 221.44 L210.88 220.95 L211.04 220.41 L211.21 219.83 L211.37 219.19 L211.49 218.69 L211.62 218.16 L211.74 217.61 L211.86 217.03 L211.99 216.43 L212.11 215.81 L212.23 215.16 L212.36 214.50 L212.48 213.82 L212.60 213.12 L212.73 212.40 L212.85 211.66 L212.97 210.91 L213.10 210.15 L213.18 209.63 L213.26 209.10 L213.34 208.58 L213.43 208.04 L213.51 207.50 L213.59 206.95 L213.67 206.40 L213.75 205.85 L213.84 205.29 L213.92 204.73 L214.00 204.17 L214.08 203.60 L214.17 203.03 L214.25 202.45 L214.33 201.88 L214.41 201.30 L214.49 200.72 L214.58 200.14 L214.66 199.56 L214.74 198.98 L214.82 198.40 L214.91 197.82 L214.99 197.23 L215.07 196.65 L215.15 196.07 L215.23 195.49 L215.32 194.91 L215.40 194.33 L215.48 193.76 L215.56 193.18 L215.65 192.61 L215.73 192.05 L215.81 191.48 L215.89 190.92 L215.97 190.36 L216.06 189.81 L216.14 189.26 L216.22 188.71 L216.30 188.17 L216.39 187.63 L216.47 187.10 L216.55 186.57 L216.63 186.05 L216.76 185.28 L216.88 184.52 L217.00 183.78 L217.13 183.06 L217.25 182.35 L217.37 181.65 L217.50 180.98 L217.62 180.32 L217.74 179.68 L217.87 179.07 L217.99 178.47 L218.11 177.89 L218.23 177.34 L218.36 176.80 L218.48 176.29 L218.60 175.81 L218.77 175.19 L218.93 174.62 L219.10 174.09 L219.26 173.61 L219.43 173.18 L219.63 172.70 L219.84 172.29 L220.08 171.90 L220.37 171.58 L220.78 171.38 L221.28 171.53 L221.61 171.87 L221.85 172.24 L222.10 172.72 L222.30 173.19 L222.51 173.74 L222.67 174.22 L222.84 174.75 L223.00 175.31 L223.17 175.92 L223.29 176.40 L223.41 176.90 L223.54 177.42 L223.66 177.96 L223.78 178.52 L223.91 179.10 L224.03 179.70 L224.15 180.31 L224.28 180.95 L224.40 181.59 L224.52 182.26 L224.65 182.94 L224.77 183.63 L224.89 184.33 L225.02 185.05 L225.14 185.78 L225.26 186.52 L225.39 187.28 L225.51 188.04 L225.63 188.81 L225.76 189.58 L225.84 190.11 L225.92 190.63 L226.00 191.16 L226.09 191.69 L226.17 192.22 L226.25 192.76 L226.33 193.29 L226.41 193.83 L226.50 194.37 L226.58 194.91 L226.66 195.45 L226.74 196.00 L226.83 196.54 L226.91 197.08 L226.99 197.62 L227.07 198.16 L227.15 198.70 L227.24 199.24 L227.32 199.78 L227.40 200.32 L227.48 200.86 L227.57 201.39 L227.65 201.92 L227.73 202.45 L227.81 202.98 L227.89 203.51 L227.98 204.03 L228.06 204.55 L228.18 205.32 L228.31 206.08 L228.43 206.84 L228.55 207.58 L228.68 208.31 L228.80 209.04 L228.92 209.75 L229.05 210.45 L229.17 211.13 L229.29 211.81 L229.42 212.46 L229.54 213.11 L229.66 213.73 L229.79 214.35 L229.91 214.94 L230.03 215.52 L230.16 216.08 L230.28 216.62 L230.40 217.15 L230.53 217.65 L230.65 218.14 L230.81 218.75 L230.98 219.34 L231.14 219.88 L231.31 220.39 L231.47 220.86 L231.68 221.39 L231.88 221.86 L232.09 222.27 L232.33 222.68 L232.62 223.04 L232.99 223.32 L233.57 223.36 L233.94 223.12 L234.22 222.81 L234.47 222.45 L234.72 222.01 L234.92 221.58 L235.13 221.10 L235.33 220.57 L235.50 220.11 L235.66 219.62 L235.83 219.10 L235.99 218.55 L236.16 217.98 L236.32 217.38 L236.49 216.76 L236.61 216.28 L236.73 215.78 L236.86 215.28 L236.98 214.76 L237.10 214.24 L237.23 213.70 L237.35 213.16 L237.47 212.61 L237.60 212.05 L237.72 211.48 L237.84 210.91 L237.97 210.33 L238.09 209.75 L238.21 209.16 L238.34 208.57 L238.46 207.97 L238.58 207.38 L238.71 206.78 L238.83 206.18 L238.95 205.58 L239.08 204.98 L239.20 204.38 L239.32 203.78 L239.45 203.19 L239.57 202.60 L239.69 202.01 L239.82 201.43 L239.94 200.85 L240.06 200.27 L240.19 199.71 L240.31 199.15 L240.43 198.59 L240.56 198.05 L240.68 197.51 L240.80 196.99 L240.93 196.47 L241.05 195.96 L241.17 195.46 L241.29 194.98 L241.46 194.35 L241.62 193.74 L241.79 193.16 L241.95 192.60 L242.12 192.07 L242.28 191.56 L242.45 191.08 L242.61 190.62 L242.82 190.10 L243.02 189.62 L243.23 189.18 L243.47 188.73 L243.72 188.34 L244.01 187.99 L244.34 187.71 L244.79 187.54 L245.32 187.66 L245.69 187.96 L245.98 188.30 L246.23 188.67 L246.47 189.11 L246.68 189.53 L246.89 190.00 L247.09 190.50 L247.26 190.94 L247.42 191.40 L247.58 191.89 L247.75 192.40 L247.91 192.93 L248.08 193.49 L248.24 194.06 L248.41 194.66 L248.57 195.28 L248.73 195.91 L248.86 196.40 L248.98 196.89 L249.10 197.39 L249.23 197.91 L249.35 198.42 L249.47 198.95 L249.60 199.48 L249.72 200.01 L249.84 200.56 L249.97 201.10 L250.09 201.65 L250.21 202.20 L250.34 202.76 L250.46 203.32 L250.58 203.88 L250.71 204.44 L250.83 205.00 L250.95 205.56 L251.08 206.12 L251.20 206.68 L251.32 207.24 L251.45 207.79 L251.57 208.35 L251.69 208.90 L251.82 209.44 L251.94 209.98 L252.06 210.52 L252.19 211.05 L252.31 211.58 L252.43 212.10 L252.56 212.61 L252.68 213.11 L252.80 213.61 L252.93 214.10 L253.05 214.58 L253.22 215.21 L253.38 215.82 L253.54 216.41 L253.71 216.98 L253.87 217.53 L254.04 218.06 L254.20 218.57 L254.37 219.06 L254.53 219.52 L254.70 219.96 L254.90 220.48 L255.11 220.95 L255.31 221.39 L255.56 221.86 L255.81 222.26 L256.09 222.66 L256.38 222.97 L256.75 223.25 L257.24 223.40 L257.78 223.28 L258.15 223.03 L258.48 222.70 L258.76 222.33 L259.01 221.95 L259.26 221.52 L259.50 221.05 L259.71 220.61 L259.92 220.15 L260.12 219.66 L260.33 219.14 L260.53 218.59 L260.70 218.14 L260.86 217.67 L261.03 217.19 L261.19 216.70 L261.35 216.20 L261.52 215.68 L261.68 215.16 L261.85 214.63 L262.01 214.09 L262.18 213.55 L262.34 213.00 L262.51 212.45 L262.67 211.90 L262.83 211.34 L263.00 210.79 L263.16 210.23 L263.33 209.68 L263.49 209.13 L263.66 208.59 L263.82 208.05 L263.98 207.52 L264.15 206.99 L264.31 206.47 L264.48 205.96 L264.64 205.47 L264.81 204.98 L264.97 204.50 L265.14 204.04 L265.30 203.59 L265.51 203.05 L265.71 202.54 L265.92 202.05 L266.12 201.59 L266.33 201.15 L266.53 200.75 L266.78 200.30 L267.03 199.90 L267.31 199.50 L267.60 199.16 L267.93 198.86 L268.30 198.63 L268.79 198.50 L269.33 198.60 L269.74 198.85 L270.07 199.14 L270.36 199.48 L270.64 199.87 L270.89 200.26 L271.14 200.69 L271.38 201.17 L271.59 201.59 L271.79 202.04 L272.00 202.52 L272.21 203.01 L272.41 203.53 L272.62 204.07 L272.78 204.52 L272.95 204.97 L273.11 205.44 L273.27 205.92 L273.44 206.40 L273.60 206.89 L273.77 207.39 L273.93 207.90 L274.10 208.41 L274.26 208.92 L274.43 209.43 L274.59 209.95 L274.75 210.47 L274.92 210.99 L275.08 211.51 L275.25 212.03 L275.41 212.54 L275.58 213.06 L275.74 213.56 L275.91 214.06 L276.07 214.56 L276.23 215.05 L276.40 215.53 L276.56 216.01 L276.73 216.47 L276.89 216.93 L277.06 217.37 L277.26 217.91 L277.47 218.43 L277.67 218.93 L277.88 219.40 L278.08 219.86 L278.29 220.29 L278.50 220.69 L278.74 221.15 L278.99 221.56 L279.23 221.94 L279.52 222.32 L279.81 222.65 L280.14 222.95 L280.51 223.20 L280.96 223.37 L281.58 223.36 L282.03 223.19 L282.40 222.95 L282.73 222.66 L283.06 222.31 L283.35 221.94 L283.63 221.54 L283.88 221.15 L284.13 220.74 L284.37 220.30 L284.62 219.84 L284.83 219.43 L285.03 219.01 L285.24 218.58 L285.44 218.14 L285.65 217.69 L285.85 217.23 L286.06 216.76 L286.26 216.28 L286.47 215.81 L286.68 215.33 L286.88 214.84 L287.09 214.36 L287.29 213.88 L287.50 213.41 L287.70 212.94 L287.91 212.47 L288.11 212.01 L288.32 211.56 L288.52 211.13 L288.73 210.70 L288.94 210.28 L289.14 209.88 L289.39 209.42 L289.63 208.99 L289.88 208.58 L290.13 208.19 L290.37 207.84 L290.66 207.46 L290.95 207.13 L291.28 206.80 L291.65 206.51 L292.06 206.27 L292.55 206.12 L293.17 206.14 L293.62 206.30 L294.03 206.53 L294.40 206.82 L294.73 207.14 L295.02 207.47 L295.31 207.84 L295.59 208.24 L295.84 208.61 L296.09 209.01 L296.33 209.43 L296.58 209.88 L296.83 210.34 L297.03 210.74 L297.24 211.15 L297.44 211.57 L297.65 211.99 L297.86 212.43 L298.06 212.87 L298.27 213.32 L298.47 213.77 L298.68 214.22 L298.88 214.67 L299.09 215.12 L299.29 215.57 L299.50 216.02 L299.71 216.46 L299.91 216.90 L300.12 217.33 L300.32 217.76 L300.53 218.17 L300.73 218.58 L300.94 218.98 L301.19 219.44 L301.43 219.88 L301.68 220.30 L301.93 220.70 L302.17 221.07 L302.46 221.48 L302.75 221.85 L303.03 222.18 L303.36 222.52 L303.69 222.80 L304.06 223.05 L304.47 223.25 L304.97 223.38 L305.58 223.37 L306.08 223.22 L306.49 223.01 L306.86 222.75 L307.19 222.48 L307.52 222.16 L307.80 221.84 L308.09 221.50 L308.38 221.13 L308.67 220.74 L308.91 220.38 L309.16 220.01 L309.41 219.63 L309.65 219.24 L309.90 218.83 L310.15 218.42 L310.39 218.01 L310.64 217.59 L310.89 217.17 L311.13 216.75 L311.38 216.33 L311.63 215.92 L311.87 215.51 L312.12 215.11 L312.37 214.72 L312.61 214.34 L312.86 213.97 L313.11 213.62 L313.39 213.22 L313.68 212.85 L313.97 212.51 L314.26 212.19 L314.59 211.86 L314.91 211.57 L315.28 211.30 L315.70 211.06 L316.15 210.88 L316.68 210.78 L317.26 210.81 L317.75 210.95 L318.16 211.14 L318.53 211.37 L318.90 211.66 L319.23 211.95 L319.56 212.28 L319.85 212.60 L320.13 212.95 L320.42 213.31 L320.71 213.70 L321.00 214.10 L321.24 214.46 L321.49 214.83 L321.74 215.21 L321.98 215.59 L322.23 215.98 L322.48 216.38 L322.72 216.77 L322.97 217.17 L323.22 217.57 L323.46 217.96 L323.71 218.35 L323.96 218.74 L324.20 219.11 L324.45 219.48 L324.70 219.84 L324.99 220.25 L325.27 220.64 L325.56 221.00 L325.85 221.35 L326.14 221.68 L326.46 222.02 L326.79 222.32 L327.16 222.62 L327.53 222.88 L327.94 223.10 L328.40 223.28 L328.93 223.39 L329.55 223.38 L330.04 223.27 L330.49 223.10 L330.90 222.88 L331.27 222.64 L331.64 222.35 L331.97 222.07 L332.30 221.76 L332.63 221.43 L332.96 221.08 L333.25 220.75 L333.53 220.41 L333.82 220.07 L334.11 219.71 L334.40 219.35 L334.69 218.99 L334.97 218.62 L335.26 218.26 L335.55 217.90 L335.84 217.54 L336.12 217.19 L336.41 216.85 L336.70 216.52 L336.99 216.21 L337.32 215.87 L337.65 215.55 L337.97 215.25 L338.34 214.95 L338.71 214.69 L339.13 214.44 L339.54 214.24 L339.99 214.09 L340.52 213.98 L341.14 213.98 L341.63 214.09 L342.08 214.26 L342.50 214.47 L342.91 214.73 L343.28 215.00 L343.65 215.30 L343.98 215.59 L344.30 215.91 L344.63 216.24 L344.96 216.59 L345.25 216.91 L345.54 217.24 L345.83 217.57 L346.11 217.91 L346.40 218.25 L346.69 218.59 L346.98 218.94 L347.26 219.28 L347.55 219.62 L347.84 219.95 L348.13 220.27 L348.41 220.59 L348.74 220.93 L349.07 221.26 L349.40 221.58 L349.73 221.87 L350.10 222.17 L350.47 222.44 L350.84 222.69 L351.25 222.91 L351.70 223.12 L352.16 223.26 L352.69 223.37 L353.27 223.40 L353.84 223.34 L354.33 223.23 L354.79 223.07 L355.24 222.88 L355.65 222.66 L356.06 222.41 L356.43 222.17 L356.80 221.91 L357.17 221.63 L357.54 221.34 L357.91 221.04 L358.24 220.77 L358.57 220.49 L358.90 220.21 L359.23 219.94 L359.55 219.67 L359.92 219.37 L360.29 219.08 L360.66 218.81 L361.03 218.55 L361.40 218.31 L361.82 218.06 L362.23 217.85 L362.68 217.64 L363.13 217.48 L363.62 217.35 L364.16 217.26 L364.73 217.24 L365.31 217.28 L365.84 217.38 L366.34 217.52 L366.79 217.69 L367.24 217.90 L367.65 218.11 L368.06 218.35 L368.43 218.59 L368.80 218.84 L369.17 219.10 L369.54 219.37 L369.91 219.65 L370.28 219.94 L370.65 220.22 L371.02 220.51 L371.39 220.80 L371.76 221.08 L372.13 221.35 L372.50 221.62 L372.87 221.87 L373.24 222.11 L373.65 222.36 L374.06 222.58 L374.48 222.78 L374.93 222.97 L375.38 223.13 L375.87 223.26 L376.41 223.35 L376.98 223.40 L377.60 223.38 L378.13 223.32 L378.67 223.20 L379.16 223.06 L379.61 222.90 L380.07 222.72 L380.52 222.51 L380.93 222.31 L381.34 222.10 L381.75 221.87 L382.16 221.64 L382.57 221.40 L382.98 221.17 L383.40 220.93 L383.81 220.70 L384.22 220.48 L384.63 220.27 L385.04 220.07 L385.49 219.87 L385.94 219.69 L386.40 219.53 L386.89 219.39 L387.38 219.28 L387.92 219.20 L388.49 219.16 L389.11 219.17 L389.68 219.23 L390.22 219.32 L390.71 219.43 L391.21 219.58 L391.66 219.74 L392.11 219.92 L392.56 220.12 L392.97 220.31 L393.38 220.51 L393.80 220.72 L394.21 220.94 L394.62 221.16 L395.03 221.39 L395.44 221.61 L395.85 221.82 L396.26 222.03 L396.67 222.24 L397.08 222.43 L397.54 222.62 L397.70 222.69" stroke="#3f3d99" stroke-width="2.2"/>
<path d="M73.52 12.50 L73.54 17.26 L73.59 24.37 L73.63 31.36 L73.67 38.22 L73.71 44.97 L73.75 51.60 L73.79 58.10 L73.83 64.48 L73.87 70.75 L73.91 76.88 L73.96 82.90 L74.00 88.79 L74.04 94.56 L74.08 100.20 L74.12 105.72 L74.16 111.11 L74.20 116.38 L74.24 121.52 L74.28 126.54 L74.33 131.43 L74.37 136.20 L74.41 140.83 L74.45 145.35 L74.49 149.73 L74.53 153.99 L74.57 158.12 L74.61 162.13 L74.65 166.01 L74.70 169.76 L74.74 173.38 L74.78 176.88 L74.82 180.25 L74.86 183.49 L74.90 186.60 L74.94 189.59 L74.98 192.45 L75.02 195.18 L75.07 197.78 L75.11 200.26 L75.15 202.61 L75.19 204.84 L75.23 206.93 L75.27 208.90 L75.31 210.75 L75.35 212.46 L75.39 214.05 L75.44 215.52 L75.48 216.86 L75.52 218.07 L75.56 219.16 L75.60 220.12 L75.64 220.96 L75.68 221.68 L75.72 222.27 L75.81 223.08 L76.05 222.56 L76.13 221.42 L76.18 220.67 L76.22 219.81 L76.26 218.82 L76.30 217.71 L76.34 216.49 L76.38 215.15 L76.42 213.69 L76.46 212.12 L76.50 210.43 L76.55 208.63 L76.59 206.71 L76.63 204.68 L76.67 202.53 L76.71 200.28 L76.75 197.91 L76.79 195.43 L76.83 192.84 L76.87 190.14 L76.92 187.34 L76.96 184.42 L77.00 181.40 L77.04 178.27 L77.08 175.04 L77.12 171.70 L77.16 168.25 L77.20 164.70 L77.24 161.05 L77.29 157.30 L77.33 153.45 L77.37 149.50 L77.41 145.44 L77.45 141.29 L77.49 137.04 L77.53 132.70 L77.57 128.26 L77.61 123.72 L77.66 119.09 L77.70 114.37 L77.74 109.56 L77.78 104.65 L77.82 99.66 L77.86 94.57 L77.90 89.40 L77.94 84.14 L77.98 78.79 L78.03 73.36 L78.07 67.84 L78.11 62.24 L78.15 56.56 L78.19 50.80 L78.23 44.96 L78.27 39.03 L78.31 33.03 L78.35 26.96 L78.40 20.80 L78.44 14.58 L78.45 12.50 M95.46 12.50 L95.50 17.02 L95.54 22.21 L95.58 27.35 L95.62 32.42 L95.66 37.44 L95.70 42.40 L95.74 47.29 L95.78 52.13 L95.82 56.90 L95.86 61.62 L95.91 66.27 L95.95 70.86 L95.99 75.38 L96.03 79.85 L96.07 84.24 L96.11 88.58 L96.15 92.85 L96.19 97.06 L96.23 101.20 L96.28 105.28 L96.32 109.29 L96.36 113.23 L96.40 117.11 L96.44 120.92 L96.48 124.67 L96.52 128.34 L96.56 131.96 L96.60 135.50 L96.65 138.97 L96.69 142.38 L96.73 145.72 L96.77 148.99 L96.81 152.19 L96.85 155.32 L96.89 158.39 L96.93 161.38 L96.97 164.31 L97.02 167.16 L97.06 169.95 L97.10 172.66 L97.14 175.30 L97.18 177.88 L97.22 180.38 L97.26 182.82 L97.30 185.18 L97.34 187.47 L97.39 189.69 L97.43 191.84 L97.47 193.92 L97.51 195.93 L97.55 197.87 L97.59 199.74 L97.63 201.53 L97.67 203.26 L97.71 204.91 L97.76 206.49 L97.80 208.00 L97.84 209.44 L97.88 210.81 L97.92 212.11 L97.96 213.33 L98.00 214.49 L98.04 215.57 L98.08 216.59 L98.13 217.53 L98.17 218.40 L98.21 219.20 L98.25 219.93 L98.29 220.60 L98.33 221.19 L98.41 222.16 L98.50 222.85 L98.62 223.37 L98.82 222.85 L98.91 222.17 L98.99 221.22 L99.03 220.64 L99.07 220.00 L99.11 219.29 L99.15 218.51 L99.19 217.67 L99.24 216.77 L99.28 215.80 L99.32 214.76 L99.36 213.66 L99.40 212.49 L99.44 211.27 L99.48 209.97 L99.52 208.62 L99.56 207.20 L99.61 205.72 L99.65 204.18 L99.69 202.58 L99.73 200.91 L99.77 199.19 L99.81 197.40 L99.85 195.56 L99.89 193.65 L99.93 191.69 L99.98 189.67 L100.02 187.59 L100.06 185.45 L100.10 183.25 L100.14 181.00 L100.18 178.69 L100.22 176.33 L100.26 173.91 L100.30 171.43 L100.35 168.90 L100.39 166.32 L100.43 163.68 L100.47 160.99 L100.51 158.25 L100.55 155.45 L100.59 152.61 L100.63 149.71 L100.67 146.77 L100.72 143.77 L100.76 140.73 L100.80 137.63 L100.84 134.49 L100.88 131.30 L100.92 128.06 L100.96 124.78 L101.00 121.45 L101.04 118.08 L101.09 114.66 L101.13 111.20 L101.17 107.69 L101.21 104.14 L101.25 100.55 L101.29 96.92 L101.33 93.25 L101.37 89.53 L101.41 85.78 L101.46 81.99 L101.50 78.16 L101.54 74.29 L101.58 70.38 L101.62 66.44 L101.66 62.46 L101.70 58.44 L101.74 54.40 L101.78 50.31 L101.83 46.20 L101.87 42.05 L101.91 37.87 L101.95 33.65 L101.99 29.41 L102.03 25.14 L102.07 20.84 L102.11 16.51 L102.15 12.50 M117.19 12.50 L117.20 13.29 L117.24 17.09 L117.28 20.86 L117.32 24.61 L117.36 28.33 L117.40 32.03 L117.45 35.70 L117.49 39.35 L117.53 42.96 L117.57 46.55 L117.61 50.11 L117.65 53.65 L117.69 57.15 L117.73 60.62 L117.77 64.07 L117.82 67.49 L117.86 70.87 L117.90 74.23 L117.94 77.55 L117.98 80.84 L118.02 84.11 L118.06 87.34 L118.10 90.53 L118.14 93.70 L118.19 96.83 L118.23 99.93 L118.27 103.00 L118.31 106.03 L118.35 109.03 L118.39 111.99 L118.43 114.92 L118.47 117.82 L118.51 120.68 L118.56 123.50 L118.60 126.29 L118.64 129.05 L118.68 131.76 L118.72 134.44 L118.76 137.09 L118.80 139.70 L118.84 142.27 L118.88 144.80 L118.92 147.30 L118.97 149.76 L119.01 152.18 L119.05 154.56 L119.09 156.90 L119.13 159.21 L119.17 161.48 L119.21 163.70 L119.25 165.89 L119.29 168.04 L119.34 170.15 L119.38 172.22 L119.42 174.26 L119.46 176.25 L119.50 178.20 L119.54 180.11 L119.58 181.98 L119.62 183.81 L119.66 185.60 L119.71 187.35 L119.75 189.06 L119.79 190.73 L119.83 192.36 L119.87 193.94 L119.91 195.49 L119.95 196.99 L119.99 198.46 L120.03 199.88 L120.08 201.26 L120.12 202.59 L120.16 203.89 L120.20 205.15 L120.24 206.36 L120.28 207.53 L120.32 208.66 L120.36 209.75 L120.40 210.80 L120.45 211.80 L120.49 212.76 L120.53 213.68 L120.57 214.56 L120.61 215.40 L120.65 216.20 L120.69 216.95 L120.73 217.66 L120.77 218.33 L120.82 218.96 L120.86 219.54 L120.94 220.59 L121.02 221.47 L121.10 222.19 L121.19 222.74 L121.31 223.25 L121.64 222.83 L121.76 222.01 L121.84 221.26 L121.93 220.36 L122.01 219.30 L122.05 218.72 L122.09 218.09 L122.13 217.43 L122.17 216.73 L122.21 215.99 L122.25 215.21 L122.30 214.39 L122.34 213.54 L122.38 212.65 L122.42 211.73 L122.46 210.77 L122.50 209.77 L122.54 208.73 L122.58 207.66 L122.62 206.56 L122.67 205.41 L122.71 204.24 L122.75 203.03 L122.79 201.78 L122.83 200.50 L122.87 199.18 L122.91 197.83 L122.95 196.45 L122.99 195.04 L123.04 193.59 L123.08 192.11 L123.12 190.59 L123.16 189.05 L123.20 187.47 L123.24 185.86 L123.28 184.22 L123.32 182.55 L123.36 180.85 L123.41 179.11 L123.45 177.35 L123.49 175.56 L123.53 173.74 L123.57 171.89 L123.61 170.01 L123.65 168.10 L123.69 166.16 L123.73 164.20 L123.78 162.21 L123.82 160.19 L123.86 158.14 L123.90 156.07 L123.94 153.97 L123.98 151.85 L124.02 149.70 L124.06 147.53 L124.10 145.33 L124.15 143.11 L124.19 140.86 L124.23 138.59 L124.27 136.30 L124.31 133.98 L124.35 131.64 L124.39 129.28 L124.43 126.90 L124.47 124.50 L124.52 122.07 L124.56 119.63 L124.60 117.16 L124.64 114.68 L124.68 112.17 L124.72 109.65 L124.76 107.11 L124.80 104.55 L124.84 101.97 L124.89 99.38 L124.93 96.76 L124.97 94.14 L125.01 91.49 L125.05 88.83 L125.09 86.16 L125.13 83.47 L125.17 80.76 L125.21 78.04 L125.26 75.31 L125.30 72.56 L125.34 69.80 L125.38 67.03 L125.42 64.25 L125.46 61.45 L125.50 58.64 L125.54 55.83 L125.58 53.00 L125.63 50.16 L125.67 47.31 L125.71 44.46 L125.75 41.59 L125.79 38.72 L125.83 35.84 L125.87 32.95 L125.91 30.05 L125.95 27.15 L126.00 24.24 L126.04 21.32 L126.08 18.40 L126.12 15.48 L126.16 12.55 L126.16 12.50 M138.62 12.50 L138.66 14.99 L138.70 17.64 L138.74 20.29 L138.78 22.93 L138.82 25.56 L138.86 28.18 L138.90 30.80 L138.94 33.41 L138.98 36.01 L139.03 38.61 L139.07 41.19 L139.11 43.77 L139.15 46.34 L139.19 48.89 L139.23 51.44 L139.27 53.98 L139.31 56.51 L139.35 59.03 L139.40 61.54 L139.44 64.03 L139.48 66.52 L139.52 68.99 L139.56 71.46 L139.60 73.91 L139.64 76.34 L139.68 78.77 L139.72 81.18 L139.77 83.58 L139.81 85.96 L139.85 88.34 L139.89 90.69 L139.93 93.04 L139.97 95.37 L140.01 97.68 L140.05 99.98 L140.09 102.26 L140.14 104.53 L140.18 106.78 L140.22 109.02 L140.26 111.24 L140.30 113.44 L140.34 115.63 L140.38 117.80 L140.42 119.96 L140.46 122.09 L140.51 124.21 L140.55 126.31 L140.59 128.39 L140.63 130.46 L140.67 132.50 L140.71 134.53 L140.75 136.54 L140.79 138.53 L140.83 140.50 L140.88 142.45 L140.92 144.38 L140.96 146.29 L141.00 148.18 L141.04 150.05 L141.08 151.90 L141.12 153.73 L141.16 155.54 L141.20 157.33 L141.25 159.09 L141.29 160.84 L141.33 162.56 L141.37 164.27 L141.41 165.95 L141.45 167.60 L141.49 169.24 L141.53 170.85 L141.57 172.45 L141.61 174.02 L141.66 175.56 L141.70 177.09 L141.74 178.59 L141.78 180.06 L141.82 181.52 L141.86 182.95 L141.90 184.36 L141.94 185.74 L141.98 187.10 L142.03 188.44 L142.07 189.75 L142.11 191.04 L142.15 192.30 L142.19 193.54 L142.23 194.76 L142.27 195.95 L142.31 197.12 L142.35 198.26 L142.40 199.37 L142.44 200.47 L142.48 201.53 L142.52 202.58 L142.56 203.60 L142.60 204.59 L142.64 205.56 L142.68 206.50 L142.72 207.41 L142.77 208.31 L142.81 209.17 L142.85 210.01 L142.89 210.83 L142.93 211.62 L142.97 212.38 L143.01 213.12 L143.05 213.84 L143.09 214.52 L143.14 215.19 L143.18 215.82 L143.22 216.43 L143.26 217.02 L143.30 217.58 L143.38 218.62 L143.46 219.56 L143.55 220.39 L143.63 221.13 L143.71 221.76 L143.79 222.28 L143.92 222.88 L144.08 223.33 L144.41 223.01 L144.53 222.48 L144.66 221.73 L144.74 221.11 L144.82 220.39 L144.90 219.58 L144.99 218.68 L145.07 217.68 L145.15 216.59 L145.19 216.01 L145.23 215.41 L145.27 214.78 L145.31 214.14 L145.36 213.47 L145.40 212.77 L145.44 212.06 L145.48 211.33 L145.52 210.57 L145.56 209.79 L145.60 208.99 L145.64 208.17 L145.68 207.33 L145.73 206.47 L145.77 205.58 L145.81 204.68 L145.85 203.76 L145.89 202.81 L145.93 201.85 L145.97 200.86 L146.01 199.86 L146.05 198.84 L146.10 197.79 L146.14 196.73 L146.18 195.65 L146.22 194.55 L146.26 193.44 L146.30 192.30 L146.34 191.15 L146.38 189.97 L146.42 188.78 L146.47 187.58 L146.51 186.35 L146.55 185.11 L146.59 183.85 L146.63 182.58 L146.67 181.29 L146.71 179.98 L146.75 178.65 L146.79 177.31 L146.84 175.96 L146.88 174.59 L146.92 173.20 L146.96 171.80 L147.00 170.39 L147.04 168.96 L147.08 167.51 L147.12 166.05 L147.16 164.58 L147.21 163.10 L147.25 161.60 L147.29 160.08 L147.33 158.56 L147.37 157.02 L147.41 155.47 L147.45 153.91 L147.49 152.34 L147.53 150.75 L147.58 149.15 L147.62 147.55 L147.66 145.93 L147.70 144.30 L147.74 142.66 L147.78 141.01 L147.82 139.34 L147.86 137.67 L147.90 136.00 L147.95 134.31 L147.99 132.61 L148.03 130.90 L148.07 129.19 L148.11 127.46 L148.15 125.73 L148.19 124.00 L148.23 122.25 L148.27 120.50 L148.32 118.74 L148.36 116.97 L148.40 115.20 L148.44 113.42 L148.48 111.63 L148.52 109.84 L148.56 108.05 L148.60 106.25 L148.64 104.44 L148.69 102.63 L148.73 100.81 L148.77 99.00 L148.81 97.17 L148.85 95.35 L148.89 93.52 L148.93 91.69 L148.97 89.85 L149.01 88.01 L149.06 86.17 L149.10 84.33 L149.14 82.49 L149.18 80.64 L149.22 78.80 L149.26 76.95 L149.30 75.10 L149.34 73.25 L149.38 71.41 L149.42 69.56 L149.47 67.71 L149.51 65.86 L149.55 64.02 L149.59 62.17 L149.63 60.33 L149.67 58.49 L149.71 56.65 L149.75 54.81 L149.79 52.97 L149.84 51.14 L149.88 49.31 L149.92 47.48 L149.96 45.66 L150.00 43.84 L150.04 42.02 L150.08 40.21 L150.12 38.40 L150.16 36.60 L150.21 34.80 L150.25 33.01 L150.29 31.22 L150.33 29.44 L150.37 27.66 L150.41 25.89 L150.45 24.13 L150.49 22.37 L150.53 20.62 L150.58 18.88 L150.62 17.14 L150.66 15.41 L150.70 13.69 L150.73 12.50 M159.49 12.50 L159.54 14.28 L159.58 15.90 L159.62 17.52 L159.66 19.16 L159.70 20.79 L159.74 22.44 L159.78 24.08 L159.82 25.74 L159.87 27.39 L159.91 29.05 L159.95 30.72 L159.99 32.39 L160.03 34.06 L160.07 35.74 L160.11 37.42 L160.15 39.10 L160.19 40.78 L160.24 42.47 L160.28 44.16 L160.32 45.86 L160.36 47.55 L160.40 49.25 L160.44 50.95 L160.48 52.65 L160.52 54.35 L160.56 56.05 L160.61 57.75 L160.65 59.46 L160.69 61.16 L160.73 62.86 L160.77 64.57 L160.81 66.27 L160.85 67.98 L160.89 69.68 L160.93 71.38 L160.98 73.08 L161.02 74.78 L161.06 76.48 L161.10 78.18 L161.14 79.87 L161.18 81.56 L161.22 83.25 L161.26 84.94 L161.30 86.63 L161.35 88.31 L161.39 89.99 L161.43 91.66 L161.47 93.34 L161.51 95.01 L161.55 96.67 L161.59 98.33 L161.63 99.99 L161.67 101.64 L161.72 103.29 L161.76 104.93 L161.80 106.57 L161.84 108.20 L161.88 109.83 L161.92 111.45 L161.96 113.07 L162.00 114.68 L162.04 116.28 L162.09 117.88 L162.13 119.47 L162.17 121.05 L162.21 122.63 L162.25 124.20 L162.29 125.77 L162.33 127.32 L162.37 128.87 L162.41 130.41 L162.46 131.94 L162.50 133.47 L162.54 134.98 L162.58 136.49 L162.62 137.99 L162.66 139.48 L162.70 140.97 L162.74 142.44 L162.78 143.90 L162.83 145.36 L162.87 146.80 L162.91 148.23 L162.95 149.66 L162.99 151.07 L163.03 152.48 L163.07 153.87 L163.11 155.26 L163.15 156.63 L163.20 157.99 L163.24 159.35 L163.28 160.69 L163.32 162.02 L163.36 163.33 L163.40 164.64 L163.44 165.93 L163.48 167.22 L163.52 168.49 L163.57 169.75 L163.61 171.00 L163.65 172.23 L163.69 173.45 L163.73 174.66 L163.77 175.86 L163.81 177.04 L163.85 178.22 L163.89 179.37 L163.94 180.52 L163.98 181.65 L164.02 182.77 L164.06 183.88 L164.10 184.97 L164.14 186.05 L164.18 187.11 L164.22 188.16 L164.26 189.20 L164.31 190.22 L164.35 191.23 L164.39 192.22 L164.43 193.20 L164.47 194.16 L164.51 195.12 L164.55 196.05 L164.59 196.97 L164.63 197.88 L164.67 198.77 L164.72 199.65 L164.76 200.51 L164.80 201.35 L164.84 202.19 L164.88 203.00 L164.92 203.80 L164.96 204.59 L165.00 205.36 L165.04 206.11 L165.09 206.85 L165.13 207.57 L165.17 208.28 L165.21 208.97 L165.25 209.65 L165.29 210.31 L165.33 210.95 L165.37 211.58 L165.41 212.19 L165.46 212.79 L165.50 213.37 L165.54 213.93 L165.62 215.01 L165.70 216.02 L165.78 216.97 L165.87 217.86 L165.95 218.68 L166.03 219.43 L166.11 220.12 L166.20 220.74 L166.28 221.30 L166.40 222.01 L166.52 222.57 L166.69 223.10 L167.02 223.37 L167.26 222.90 L167.43 222.28 L167.55 221.64 L167.68 220.87 L167.76 220.28 L167.84 219.63 L167.92 218.93 L168.00 218.16 L168.09 217.34 L168.17 216.46 L168.25 215.52 L168.33 214.52 L168.42 213.48 L168.50 212.38 L168.54 211.80 L168.58 211.22 L168.62 210.62 L168.66 210.01 L168.70 209.39 L168.74 208.75 L168.79 208.11 L168.83 207.44 L168.87 206.77 L168.91 206.09 L168.95 205.39 L168.99 204.68 L169.03 203.96 L169.07 203.22 L169.11 202.48 L169.16 201.72 L169.20 200.95 L169.24 200.17 L169.28 199.38 L169.32 198.58 L169.36 197.77 L169.40 196.94 L169.44 196.11 L169.48 195.27 L169.53 194.41 L169.57 193.55 L169.61 192.67 L169.65 191.79 L169.69 190.89 L169.73 189.99 L169.77 189.07 L169.81 188.15 L169.85 187.22 L169.90 186.27 L169.94 185.32 L169.98 184.36 L170.02 183.40 L170.06 182.42 L170.10 181.44 L170.14 180.44 L170.18 179.44 L170.22 178.43 L170.27 177.42 L170.31 176.39 L170.35 175.36 L170.39 174.32 L170.43 173.27 L170.47 172.22 L170.51 171.16 L170.55 170.10 L170.59 169.02 L170.64 167.94 L170.68 166.86 L170.72 165.77 L170.76 164.67 L170.80 163.57 L170.84 162.46 L170.88 161.34 L170.92 160.23 L170.96 159.10 L171.01 157.97 L171.05 156.84 L171.09 155.70 L171.13 154.56 L171.17 153.41 L171.21 152.26 L171.25 151.11 L171.29 149.95 L171.33 148.79 L171.38 147.62 L171.42 146.46 L171.46 145.29 L171.50 144.11 L171.54 142.93 L171.58 141.76 L171.62 140.57 L171.66 139.39 L171.70 138.20 L171.75 137.02 L171.79 135.83 L171.83 134.64 L171.87 133.44 L171.91 132.25 L171.95 131.06 L171.99 129.86 L172.03 128.67 L172.07 127.47 L172.12 126.27 L172.16 125.08 L172.20 123.88 L172.24 122.68 L172.28 121.49 L172.32 120.29 L172.36 119.09 L172.40 117.90 L172.44 116.71 L172.48 115.51 L172.53 114.32 L172.57 113.13 L172.61 111.94 L172.65 110.76 L172.69 109.57 L172.73 108.39 L172.77 107.21 L172.81 106.03 L172.85 104.86 L172.90 103.69 L172.94 102.52 L172.98 101.35 L173.02 100.19 L173.06 99.03 L173.10 97.87 L173.14 96.72 L173.18 95.57 L173.22 94.43 L173.27 93.29 L173.31 92.15 L173.35 91.02 L173.39 89.89 L173.43 88.77 L173.47 87.65 L173.51 86.54 L173.55 85.43 L173.59 84.33 L173.64 83.23 L173.68 82.14 L173.72 81.06 L173.76 79.98 L173.80 78.90 L173.84 77.84 L173.88 76.78 L173.92 75.72 L173.96 74.67 L174.01 73.63 L174.05 72.60 L174.09 71.57 L174.13 70.55 L174.17 69.54 L174.21 68.53 L174.25 67.53 L174.29 66.54 L174.33 65.56 L174.38 64.59 L174.42 63.62 L174.46 62.66 L174.50 61.71 L174.54 60.77 L174.58 59.84 L174.62 58.91 L174.66 58.00 L174.70 57.09 L174.75 56.19 L174.79 55.30 L174.83 54.42 L174.87 53.55 L174.91 52.69 L174.95 51.84 L174.99 51.00 L175.03 50.17 L175.07 49.35 L175.12 48.53 L175.16 47.73 L175.20 46.94 L175.24 46.16 L175.28 45.39 L175.32 44.63 L175.36 43.88 L175.40 43.14 L175.44 42.41 L175.49 41.69 L175.53 40.98 L175.57 40.28 L175.61 39.60 L175.65 38.92 L175.69 38.26 L175.73 37.61 L175.77 36.97 L175.81 36.34 L175.86 35.72 L175.90 35.11 L175.94 34.52 L175.98 33.94 L176.02 33.37 L176.06 32.81 L176.14 31.73 L176.23 30.69 L176.31 29.71 L176.39 28.77 L176.47 27.88 L176.55 27.05 L176.64 26.26 L176.72 25.52 L176.80 24.84 L176.88 24.21 L176.97 23.62 L177.05 23.09 L177.17 22.39 L177.29 21.81 L177.46 21.22 L177.66 20.77 L178.12 20.95 L178.28 21.40 L178.45 22.06 L178.57 22.69 L178.69 23.44 L178.77 24.00 L178.86 24.61 L178.94 25.27 L179.02 25.98 L179.10 26.73 L179.19 27.54 L179.27 28.39 L179.35 29.29 L179.43 30.24 L179.51 31.23 L179.60 32.27 L179.68 33.35 L179.76 34.48 L179.80 35.06 L179.84 35.65 L179.88 36.25 L179.92 36.86 L179.97 37.48 L180.01 38.12 L180.05 38.76 L180.09 39.41 L180.13 40.08 L180.17 40.75 L180.21 41.43 L180.25 42.13 L180.29 42.83 L180.34 43.55 L180.38 44.27 L180.42 45.00 L180.46 45.74 L180.50 46.50 L180.54 47.26 L180.58 48.03 L180.62 48.81 L180.66 49.59 L180.71 50.39 L180.75 51.20 L180.79 52.01 L180.83 52.83 L180.87 53.66 L180.91 54.50 L180.95 55.35 L180.99 56.20 L181.03 57.07 L181.08 57.94 L181.12 58.82 L181.16 59.70 L181.20 60.60 L181.24 61.50 L181.28 62.41 L181.32 63.32 L181.36 64.25 L181.40 65.18 L181.45 66.11 L181.49 67.05 L181.53 68.00 L181.57 68.96 L181.61 69.92 L181.65 70.89 L181.69 71.87 L181.73 72.85 L181.77 73.83 L181.82 74.82 L181.86 75.82 L181.90 76.82 L181.94 77.83 L181.98 78.84 L182.02 79.86 L182.06 80.88 L182.10 81.91 L182.14 82.94 L182.19 83.98 L182.23 85.02 L182.27 86.07 L182.31 87.12 L182.35 88.17 L182.39 89.23 L182.43 90.29 L182.47 91.35 L182.51 92.42 L182.56 93.49 L182.60 94.57 L182.64 95.64 L182.68 96.72 L182.72 97.81 L182.76 98.89 L182.80 99.98 L182.84 101.07 L182.88 102.16 L182.93 103.26 L182.97 104.35 L183.01 105.45 L183.05 106.55 L183.09 107.65 L183.13 108.76 L183.17 109.86 L183.21 110.97 L183.25 112.07 L183.30 113.18 L183.34 114.29 L183.38 115.40 L183.42 116.51 L183.46 117.62 L183.50 118.73 L183.54 119.84 L183.58 120.95 L183.62 122.05 L183.67 123.16 L183.71 124.27 L183.75 125.38 L183.79 126.49 L183.83 127.59 L183.87 128.70 L183.91 129.80 L183.95 130.91 L183.99 132.01 L184.04 133.11 L184.08 134.21 L184.12 135.30 L184.16 136.40 L184.20 137.49 L184.24 138.58 L184.28 139.67 L184.32 140.75 L184.36 141.83 L184.41 142.91 L184.45 143.99 L184.49 145.07 L184.53 146.14 L184.57 147.21 L184.61 148.27 L184.65 149.33 L184.69 150.39 L184.73 151.44 L184.78 152.49 L184.82 153.54 L184.86 154.58 L184.90 155.62 L184.94 156.65 L184.98 157.68 L185.02 158.71 L185.06 159.73 L185.10 160.74 L185.15 161.75 L185.19 162.76 L185.23 163.76 L185.27 164.75 L185.31 165.74 L185.35 166.73 L185.39 167.70 L185.43 168.68 L185.47 169.64 L185.52 170.61 L185.56 171.56 L185.60 172.51 L185.64 173.45 L185.68 174.39 L185.72 175.32 L185.76 176.24 L185.80 177.16 L185.84 178.07 L185.89 178.97 L185.93 179.87 L185.97 180.76 L186.01 181.64 L186.05 182.52 L186.09 183.39 L186.13 184.25 L186.17 185.10 L186.21 185.95 L186.26 186.78 L186.30 187.61 L186.34 188.44 L186.38 189.25 L186.42 190.06 L186.46 190.86 L186.50 191.65 L186.54 192.43 L186.58 193.20 L186.63 193.97 L186.67 194.72 L186.71 195.47 L186.75 196.21 L186.79 196.94 L186.83 197.66 L186.87 198.38 L186.91 199.08 L186.95 199.77 L187.00 200.46 L187.04 201.14 L187.08 201.80 L187.12 202.46 L187.16 203.11 L187.20 203.75 L187.24 204.38 L187.28 205.00 L187.32 205.61 L187.37 206.22 L187.41 206.81 L187.45 207.39 L187.49 207.96 L187.53 208.52 L187.61 209.62 L187.69 210.67 L187.78 211.69 L187.86 212.66 L187.94 213.60 L188.02 214.49 L188.10 215.34 L188.19 216.15 L188.27 216.91 L188.35 217.64 L188.43 218.32 L188.52 218.96 L188.60 219.55 L188.68 220.11 L188.80 220.86 L188.93 221.51 L189.05 222.07 L189.21 222.66 L189.42 223.15 L189.83 223.35 L190.08 222.96 L190.24 222.49 L190.41 221.86 L190.53 221.28 L190.65 220.62 L190.78 219.87 L190.86 219.32 L190.94 218.73 L191.02 218.10 L191.11 217.44 L191.19 216.75 L191.27 216.01 L191.35 215.25 L191.43 214.44 L191.52 213.61 L191.60 212.74 L191.68 211.83 L191.76 210.90 L191.85 209.93 L191.93 208.93 L192.01 207.91 L192.09 206.85 L192.17 205.76 L192.26 204.65 L192.30 204.08 L192.34 203.51 L192.38 202.92 L192.42 202.34 L192.46 201.74 L192.50 201.14 L192.54 200.54 L192.59 199.92 L192.63 199.30 L192.67 198.68 L192.71 198.05 L192.75 197.41 L192.79 196.77 L192.83 196.12 L192.87 195.46 L192.91 194.81 L192.96 194.14 L193.00 193.47 L193.04 192.80 L193.08 192.12 L193.12 191.43 L193.16 190.74 L193.20 190.05 L193.24 189.35 L193.28 188.64 L193.33 187.94 L193.37 187.22 L193.41 186.51 L193.45 185.79 L193.49 185.06 L193.53 184.33 L193.57 183.60 L193.61 182.86 L193.65 182.12 L193.70 181.38 L193.74 180.63 L193.78 179.88 L193.82 179.13 L193.86 178.38 L193.90 177.62 L193.94 176.86 L193.98 176.09 L194.02 175.32 L194.07 174.56 L194.11 173.78 L194.15 173.01 L194.19 172.23 L194.23 171.46 L194.27 170.68 L194.31 169.89 L194.35 169.11 L194.39 168.32 L194.44 167.54 L194.48 166.75 L194.52 165.96 L194.56 165.17 L194.60 164.38 L194.64 163.59 L194.68 162.79 L194.72 162.00 L194.76 161.20 L194.81 160.41 L194.85 159.61 L194.89 158.82 L194.93 158.02 L194.97 157.23 L195.01 156.43 L195.05 155.64 L195.09 154.84 L195.13 154.04 L195.17 153.25 L195.22 152.46 L195.26 151.66 L195.30 150.87 L195.34 150.08 L195.38 149.29 L195.42 148.50 L195.46 147.71 L195.50 146.93 L195.54 146.14 L195.59 145.36 L195.63 144.57 L195.67 143.79 L195.71 143.02 L195.75 142.24 L195.79 141.47 L195.83 140.69 L195.87 139.92 L195.91 139.16 L195.96 138.39 L196.00 137.63 L196.04 136.87 L196.08 136.11 L196.12 135.36 L196.16 134.61 L196.20 133.86 L196.24 133.12 L196.28 132.38 L196.33 131.64 L196.37 130.90 L196.41 130.17 L196.45 129.45 L196.49 128.72 L196.53 128.00 L196.57 127.29 L196.61 126.58 L196.65 125.87 L196.70 125.17 L196.74 124.47 L196.78 123.77 L196.82 123.09 L196.86 122.40 L196.90 121.72 L196.94 121.04 L196.98 120.37 L197.02 119.71 L197.07 119.05 L197.11 118.39 L197.15 117.74 L197.19 117.10 L197.23 116.46 L197.27 115.82 L197.31 115.20 L197.35 114.57 L197.39 113.96 L197.44 113.34 L197.48 112.74 L197.52 112.14 L197.56 111.55 L197.60 110.96 L197.64 110.38 L197.68 109.80 L197.72 109.23 L197.76 108.67 L197.85 107.57 L197.93 106.49 L198.01 105.43 L198.09 104.41 L198.18 103.41 L198.26 102.44 L198.34 101.50 L198.42 100.59 L198.50 99.71 L198.59 98.86 L198.67 98.04 L198.75 97.25 L198.83 96.49 L198.92 95.77 L199.00 95.07 L199.08 94.41 L199.16 93.78 L199.24 93.19 L199.33 92.62 L199.41 92.09 L199.53 91.36 L199.66 90.71 L199.78 90.13 L199.90 89.63 L200.07 89.08 L200.27 88.59 L200.56 88.28 L200.97 88.57 L201.18 89.04 L201.34 89.56 L201.51 90.21 L201.63 90.79 L201.75 91.44 L201.88 92.16 L201.96 92.69 L202.04 93.24 L202.12 93.83 L202.20 94.45 L202.29 95.09 L202.37 95.77 L202.45 96.48 L202.53 97.22 L202.62 97.99 L202.70 98.78 L202.78 99.61 L202.86 100.46 L202.94 101.34 L203.03 102.25 L203.11 103.19 L203.19 104.15 L203.27 105.13 L203.35 106.14 L203.44 107.18 L203.52 108.24 L203.60 109.32 L203.68 110.42 L203.72 110.98 L203.77 111.55 L203.81 112.12 L203.85 112.70 L203.89 113.28 L203.93 113.87 L203.97 114.46 L204.01 115.06 L204.05 115.66 L204.09 116.27 L204.14 116.88 L204.18 117.50 L204.22 118.12 L204.26 118.74 L204.30 119.37 L204.34 120.01 L204.38 120.65 L204.42 121.29 L204.46 121.94 L204.51 122.59 L204.55 123.25 L204.59 123.90 L204.63 124.57 L204.67 125.23 L204.71 125.90 L204.75 126.58 L204.79 127.25 L204.83 127.94 L204.88 128.62 L204.92 129.31 L204.96 130.00 L205.00 130.69 L205.04 131.38 L205.08 132.08 L205.12 132.79 L205.16 133.49 L205.20 134.20 L205.25 134.91 L205.29 135.62 L205.33 136.33 L205.37 137.05 L205.41 137.76 L205.45 138.48 L205.49 139.21 L205.53 139.93 L205.57 140.66 L205.62 141.38 L205.66 142.11 L205.70 142.84 L205.74 143.58 L205.78 144.31 L205.82 145.04 L205.86 145.78 L205.90 146.51 L205.94 147.25 L205.99 147.99 L206.03 148.73 L206.07 149.47 L206.11 150.21 L206.15 150.95 L206.19 151.69 L206.23 152.43 L206.27 153.17 L206.31 153.92 L206.36 154.66 L206.40 155.40 L206.44 156.14 L206.48 156.88 L206.52 157.62 L206.56 158.36 L206.60 159.10 L206.64 159.84 L206.68 160.58 L206.73 161.32 L206.77 162.06 L206.81 162.79 L206.85 163.53 L206.89 164.26 L206.93 164.99 L206.97 165.73 L207.01 166.46 L207.05 167.18 L207.10 167.91 L207.14 168.64 L207.18 169.36 L207.22 170.08 L207.26 170.80 L207.30 171.52 L207.34 172.23 L207.38 172.95 L207.42 173.66 L207.47 174.37 L207.51 175.07 L207.55 175.78 L207.59 176.48 L207.63 177.18 L207.67 177.88 L207.71 178.57 L207.75 179.26 L207.79 179.95 L207.84 180.63 L207.88 181.31 L207.92 181.99 L207.96 182.66 L208.00 183.34 L208.04 184.00 L208.08 184.67 L208.12 185.33 L208.16 185.98 L208.21 186.64 L208.25 187.29 L208.29 187.93 L208.33 188.57 L208.37 189.21 L208.41 189.84 L208.45 190.47 L208.49 191.10 L208.53 191.72 L208.58 192.34 L208.62 192.95 L208.66 193.55 L208.70 194.16 L208.74 194.75 L208.78 195.35 L208.82 195.94 L208.86 196.52 L208.90 197.10 L208.95 197.67 L208.99 198.24 L209.03 198.80 L209.11 199.91 L209.19 201.00 L209.27 202.07 L209.36 203.12 L209.44 204.14 L209.52 205.14 L209.60 206.12 L209.69 207.07 L209.77 208.00 L209.85 208.91 L209.93 209.79 L210.01 210.64 L210.10 211.47 L210.18 212.27 L210.26 213.05 L210.34 213.80 L210.42 214.52 L210.51 215.22 L210.59 215.89 L210.67 216.53 L210.75 217.14 L210.84 217.73 L210.92 218.29 L211.00 218.82 L211.12 219.56 L211.25 220.23 L211.37 220.85 L211.49 221.39 L211.62 221.87 L211.78 222.41 L211.99 222.92 L212.23 223.29 L212.77 223.20 L213.01 222.75 L213.18 222.32 L213.34 221.77 L213.47 221.29 L213.59 220.75 L213.71 220.15 L213.84 219.50 L213.96 218.79 L214.08 218.02 L214.17 217.48 L214.25 216.92 L214.33 216.33 L214.41 215.72 L214.49 215.09 L214.58 214.44 L214.66 213.76 L214.74 213.06 L214.82 212.35 L214.91 211.61 L214.99 210.85 L215.07 210.08 L215.15 209.28 L215.23 208.47 L215.32 207.64 L215.40 206.79 L215.48 205.93 L215.56 205.05 L215.65 204.15 L215.73 203.24 L215.81 202.32 L215.89 201.38 L215.97 200.42 L216.06 199.46 L216.14 198.48 L216.22 197.49 L216.30 196.49 L216.39 195.48 L216.47 194.46 L216.55 193.43 L216.63 192.39 L216.71 191.34 L216.80 190.29 L216.88 189.22 L216.96 188.16 L217.04 187.08 L217.13 186.00 L217.21 184.92 L217.29 183.83 L217.37 182.74 L217.45 181.64 L217.54 180.55 L217.62 179.45 L217.70 178.35 L217.78 177.25 L217.87 176.15 L217.95 175.05 L218.03 173.96 L218.11 172.86 L218.19 171.77 L218.28 170.68 L218.36 169.60 L218.44 168.52 L218.52 167.44 L218.60 166.37 L218.69 165.31 L218.77 164.25 L218.85 163.20 L218.93 162.16 L219.02 161.12 L219.10 160.10 L219.18 159.08 L219.26 158.08 L219.34 157.08 L219.43 156.10 L219.51 155.12 L219.59 154.16 L219.67 153.22 L219.76 152.28 L219.84 151.36 L219.92 150.45 L220.00 149.56 L220.08 148.68 L220.17 147.82 L220.25 146.97 L220.33 146.14 L220.41 145.32 L220.50 144.53 L220.58 143.75 L220.66 142.99 L220.74 142.24 L220.82 141.52 L220.91 140.81 L220.99 140.12 L221.07 139.46 L221.15 138.81 L221.24 138.18 L221.32 137.57 L221.40 136.99 L221.48 136.42 L221.56 135.88 L221.65 135.36 L221.77 134.62 L221.89 133.93 L222.02 133.29 L222.14 132.70 L222.26 132.16 L222.39 131.67 L222.55 131.11 L222.72 130.64 L222.92 130.19 L223.21 129.81 L223.74 129.90 L223.99 130.28 L224.20 130.78 L224.36 131.30 L224.52 131.91 L224.65 132.43 L224.77 133.00 L224.89 133.62 L225.02 134.28 L225.14 135.00 L225.26 135.76 L225.35 136.29 L225.43 136.84 L225.51 137.41 L225.59 138.01 L225.67 138.62 L225.76 139.25 L225.84 139.89 L225.92 140.56 L226.00 141.24 L226.09 141.95 L226.17 142.66 L226.25 143.40 L226.33 144.15 L226.41 144.91 L226.50 145.70 L226.58 146.49 L226.66 147.30 L226.74 148.13 L226.83 148.97 L226.91 149.82 L226.99 150.68 L227.07 151.56 L227.15 152.45 L227.24 153.35 L227.32 154.26 L227.40 155.18 L227.48 156.11 L227.57 157.06 L227.65 158.01 L227.73 158.97 L227.81 159.93 L227.89 160.91 L227.98 161.89 L228.06 162.88 L228.14 163.87 L228.22 164.87 L228.31 165.87 L228.39 166.88 L228.47 167.90 L228.55 168.92 L228.63 169.94 L228.72 170.96 L228.80 171.98 L228.88 173.01 L228.96 174.04 L229.05 175.07 L229.13 176.09 L229.21 177.12 L229.29 178.15 L229.37 179.17 L229.46 180.20 L229.54 181.22 L229.62 182.24 L229.70 183.25 L229.79 184.26 L229.87 185.27 L229.95 186.27 L230.03 187.27 L230.11 188.26 L230.20 189.24 L230.28 190.22 L230.36 191.19 L230.44 192.16 L230.53 193.11 L230.61 194.06 L230.69 195.00 L230.77 195.92 L230.85 196.84 L230.94 197.75 L231.02 198.65 L231.10 199.54 L231.18 200.41 L231.27 201.28 L231.35 202.13 L231.43 202.97 L231.51 203.79 L231.59 204.61 L231.68 205.41 L231.76 206.19 L231.84 206.96 L231.92 207.72 L232.01 208.46 L232.09 209.19 L232.17 209.90 L232.25 210.60 L232.33 211.27 L232.42 211.94 L232.50 212.58 L232.58 213.21 L232.66 213.83 L232.75 214.42 L232.83 215.00 L232.91 215.56 L232.99 216.10 L233.07 216.62 L233.20 217.37 L233.32 218.08 L233.44 218.74 L233.57 219.36 L233.69 219.94 L233.81 220.48 L233.94 220.97 L234.10 221.55 L234.27 222.06 L234.47 222.57 L234.72 223.03 L235.05 223.36 L235.58 223.21 L235.87 222.79 L236.07 222.35 L236.28 221.80 L236.44 221.27 L236.61 220.68 L236.73 220.19 L236.86 219.66 L236.98 219.10 L237.10 218.50 L237.23 217.86 L237.35 217.20 L237.47 216.49 L237.60 215.76 L237.72 215.00 L237.80 214.47 L237.88 213.93 L237.97 213.38 L238.05 212.82 L238.13 212.25 L238.21 211.66 L238.29 211.06 L238.38 210.45 L238.46 209.84 L238.54 209.21 L238.62 208.57 L238.71 207.92 L238.79 207.27 L238.87 206.60 L238.95 205.93 L239.03 205.25 L239.12 204.57 L239.20 203.87 L239.28 203.17 L239.36 202.47 L239.45 201.75 L239.53 201.04 L239.61 200.31 L239.69 199.59 L239.77 198.86 L239.86 198.12 L239.94 197.39 L240.02 196.65 L240.10 195.91 L240.19 195.16 L240.27 194.42 L240.35 193.67 L240.43 192.92 L240.51 192.17 L240.60 191.43 L240.68 190.68 L240.76 189.93 L240.84 189.19 L240.93 188.45 L241.01 187.71 L241.09 186.97 L241.17 186.23 L241.25 185.50 L241.34 184.78 L241.42 184.05 L241.50 183.33 L241.58 182.62 L241.66 181.91 L241.75 181.21 L241.83 180.51 L241.91 179.82 L241.99 179.14 L242.08 178.46 L242.16 177.79 L242.24 177.13 L242.32 176.48 L242.40 175.83 L242.49 175.19 L242.57 174.57 L242.65 173.95 L242.73 173.34 L242.82 172.75 L242.90 172.16 L242.98 171.58 L243.06 171.02 L243.14 170.47 L243.23 169.92 L243.31 169.39 L243.39 168.87 L243.51 168.12 L243.64 167.40 L243.76 166.70 L243.88 166.03 L244.01 165.40 L244.13 164.80 L244.25 164.23 L244.38 163.69 L244.50 163.19 L244.67 162.57 L244.83 162.01 L244.99 161.51 L245.20 160.98 L245.41 160.56 L245.65 160.18 L245.98 159.90 L246.52 160.01 L246.80 160.35 L247.05 160.77 L247.26 161.22 L247.46 161.76 L247.63 162.26 L247.79 162.83 L247.95 163.45 L248.08 163.95 L248.20 164.48 L248.32 165.05 L248.45 165.64 L248.57 166.27 L248.69 166.92 L248.82 167.60 L248.94 168.31 L249.06 169.04 L249.19 169.80 L249.27 170.32 L249.35 170.85 L249.43 171.39 L249.52 171.94 L249.60 172.50 L249.68 173.07 L249.76 173.64 L249.84 174.23 L249.93 174.83 L250.01 175.43 L250.09 176.04 L250.17 176.66 L250.26 177.29 L250.34 177.92 L250.42 178.56 L250.50 179.20 L250.58 179.86 L250.67 180.51 L250.75 181.18 L250.83 181.84 L250.91 182.52 L251.00 183.19 L251.08 183.87 L251.16 184.56 L251.24 185.24 L251.32 185.93 L251.41 186.62 L251.49 187.32 L251.57 188.01 L251.65 188.71 L251.74 189.41 L251.82 190.11 L251.90 190.81 L251.98 191.51 L252.06 192.21 L252.15 192.91 L252.23 193.61 L252.31 194.31 L252.39 195.00 L252.48 195.70 L252.56 196.39 L252.64 197.08 L252.72 197.76 L252.80 198.44 L252.89 199.12 L252.97 199.80 L253.05 200.47 L253.13 201.14 L253.22 201.80 L253.30 202.45 L253.38 203.10 L253.46 203.75 L253.54 204.39 L253.63 205.02 L253.71 205.64 L253.79 206.26 L253.87 206.87 L253.96 207.48 L254.04 208.07 L254.12 208.66 L254.20 209.24 L254.28 209.81 L254.37 210.37 L254.45 210.93 L254.53 211.47 L254.61 212.00 L254.70 212.53 L254.82 213.29 L254.94 214.03 L255.07 214.75 L255.19 215.45 L255.31 216.11 L255.44 216.76 L255.56 217.37 L255.68 217.96 L255.81 218.52 L255.93 219.05 L256.05 219.55 L256.22 220.17 L256.38 220.74 L256.54 221.26 L256.71 221.72 L256.91 222.22 L257.12 222.63 L257.37 223.01 L257.70 223.32 L258.31 223.29 L258.64 222.95 L258.89 222.56 L259.09 222.15 L259.30 221.65 L259.46 221.20 L259.63 220.70 L259.79 220.16 L259.96 219.56 L260.12 218.93 L260.24 218.42 L260.37 217.90 L260.49 217.35 L260.61 216.77 L260.74 216.18 L260.86 215.57 L260.98 214.94 L261.11 214.29 L261.23 213.62 L261.35 212.94 L261.48 212.24 L261.60 211.53 L261.72 210.80 L261.85 210.06 L261.97 209.31 L262.09 208.54 L262.22 207.77 L262.30 207.25 L262.38 206.72 L262.46 206.20 L262.55 205.66 L262.63 205.13 L262.71 204.59 L262.79 204.06 L262.88 203.52 L262.96 202.97 L263.04 202.43 L263.12 201.88 L263.20 201.34 L263.29 200.79 L263.37 200.25 L263.45 199.70 L263.53 199.16 L263.62 198.61 L263.70 198.07 L263.78 197.52 L263.86 196.98 L263.94 196.44 L264.03 195.91 L264.11 195.37 L264.19 194.84 L264.27 194.31 L264.35 193.79 L264.44 193.26 L264.52 192.75 L264.64 191.98 L264.77 191.22 L264.89 190.47 L265.01 189.73 L265.14 189.01 L265.26 188.30 L265.38 187.61 L265.51 186.93 L265.63 186.26 L265.75 185.62 L265.88 184.99 L266.00 184.37 L266.12 183.78 L266.25 183.21 L266.37 182.66 L266.49 182.13 L266.62 181.62 L266.74 181.13 L266.90 180.51 L267.07 179.94 L267.23 179.41 L267.40 178.92 L267.56 178.48 L267.77 177.99 L267.97 177.57 L268.22 177.16 L268.51 176.83 L268.92 176.60 L269.41 176.73 L269.74 177.05 L269.99 177.44 L270.19 177.84 L270.40 178.31 L270.60 178.85 L270.77 179.33 L270.93 179.85 L271.10 180.41 L271.26 181.01 L271.43 181.64 L271.55 182.14 L271.67 182.67 L271.79 183.21 L271.92 183.77 L272.04 184.34 L272.16 184.94 L272.29 185.55 L272.41 186.18 L272.53 186.82 L272.66 187.47 L272.78 188.14 L272.90 188.83 L273.03 189.52 L273.15 190.23 L273.27 190.94 L273.40 191.67 L273.52 192.40 L273.64 193.14 L273.77 193.89 L273.89 194.65 L274.01 195.41 L274.14 196.17 L274.26 196.94 L274.38 197.72 L274.51 198.49 L274.63 199.26 L274.75 200.04 L274.88 200.81 L275.00 201.58 L275.12 202.36 L275.25 203.12 L275.37 203.89 L275.49 204.64 L275.62 205.40 L275.74 206.14 L275.86 206.88 L275.99 207.61 L276.11 208.33 L276.23 209.05 L276.36 209.75 L276.48 210.44 L276.60 211.12 L276.73 211.78 L276.85 212.44 L276.97 213.08 L277.10 213.70 L277.22 214.31 L277.34 214.91 L277.47 215.48 L277.59 216.04 L277.71 216.59 L277.84 217.11 L277.96 217.62 L278.08 218.11 L278.25 218.73 L278.41 219.31 L278.58 219.86 L278.74 220.37 L278.91 220.85 L279.11 221.38 L279.32 221.86 L279.52 222.27 L279.77 222.68 L280.06 223.05 L280.43 223.33 L281.04 223.33 L281.41 223.06 L281.70 222.72 L281.95 222.33 L282.19 221.86 L282.40 221.40 L282.61 220.90 L282.77 220.45 L282.93 219.98 L283.10 219.48 L283.26 218.94 L283.43 218.38 L283.59 217.80 L283.76 217.19 L283.92 216.55 L284.04 216.06 L284.17 215.56 L284.29 215.05 L284.41 214.52 L284.54 213.99 L284.66 213.45 L284.78 212.90 L284.91 212.34 L285.03 211.77 L285.15 211.20 L285.28 210.63 L285.40 210.05 L285.52 209.46 L285.65 208.87 L285.77 208.28 L285.89 207.69 L286.02 207.10 L286.14 206.50 L286.26 205.91 L286.39 205.32 L286.51 204.73 L286.63 204.14 L286.76 203.55 L286.88 202.97 L287.00 202.40 L287.13 201.83 L287.25 201.26 L287.37 200.70 L287.50 200.15 L287.62 199.61 L287.74 199.08 L287.87 198.55 L287.99 198.04 L288.11 197.53 L288.24 197.04 L288.36 196.56 L288.52 195.94 L288.69 195.34 L288.85 194.76 L289.02 194.21 L289.18 193.69 L289.35 193.19 L289.51 192.72 L289.68 192.28 L289.88 191.78 L290.09 191.32 L290.29 190.91 L290.54 190.49 L290.83 190.09 L291.16 189.77 L291.57 189.56 L292.14 189.63 L292.51 189.90 L292.80 190.24 L293.05 190.61 L293.29 191.04 L293.50 191.46 L293.70 191.93 L293.91 192.44 L294.07 192.88 L294.24 193.35 L294.40 193.85 L294.57 194.36 L294.73 194.91 L294.90 195.47 L295.06 196.06 L295.22 196.67 L295.39 197.29 L295.51 197.78 L295.64 198.27 L295.76 198.77 L295.88 199.28 L296.01 199.79 L296.13 200.31 L296.25 200.84 L296.38 201.38 L296.50 201.92 L296.62 202.46 L296.75 203.01 L296.87 203.57 L296.99 204.12 L297.12 204.68 L297.24 205.24 L297.36 205.80 L297.49 206.36 L297.61 206.92 L297.73 207.48 L297.86 208.03 L297.98 208.59 L298.10 209.14 L298.23 209.69 L298.35 210.24 L298.47 210.78 L298.60 211.31 L298.72 211.84 L298.84 212.37 L298.97 212.89 L299.09 213.40 L299.21 213.90 L299.34 214.39 L299.46 214.88 L299.62 215.51 L299.79 216.12 L299.95 216.72 L300.12 217.29 L300.28 217.84 L300.45 218.37 L300.61 218.88 L300.77 219.37 L300.94 219.83 L301.14 220.37 L301.35 220.87 L301.56 221.32 L301.76 221.73 L302.01 222.17 L302.25 222.54 L302.54 222.89 L302.87 223.18 L303.28 223.37 L303.86 223.33 L304.27 223.08 L304.60 222.76 L304.88 222.38 L305.13 222.00 L305.38 221.56 L305.58 221.15 L305.79 220.71 L305.99 220.24 L306.20 219.73 L306.41 219.20 L306.57 218.75 L306.73 218.28 L306.90 217.80 L307.06 217.30 L307.23 216.79 L307.39 216.27 L307.56 215.74 L307.72 215.20 L307.89 214.65 L308.05 214.09 L308.21 213.53 L308.38 212.96 L308.54 212.39 L308.71 211.81 L308.87 211.24 L309.04 210.66 L309.20 210.09 L309.37 209.52 L309.53 208.95 L309.69 208.39 L309.86 207.84 L310.02 207.29 L310.19 206.75 L310.35 206.22 L310.52 205.71 L310.68 205.20 L310.84 204.71 L311.01 204.23 L311.17 203.77 L311.34 203.32 L311.54 202.78 L311.75 202.27 L311.95 201.80 L312.16 201.35 L312.37 200.94 L312.61 200.48 L312.86 200.08 L313.15 199.68 L313.43 199.35 L313.76 199.07 L314.17 198.86 L314.75 198.82 L315.20 199.02 L315.57 199.31 L315.90 199.67 L316.19 200.06 L316.44 200.45 L316.68 200.88 L316.89 201.28 L317.09 201.71 L317.30 202.17 L317.50 202.66 L317.71 203.17 L317.91 203.71 L318.08 204.16 L318.24 204.62 L318.41 205.09 L318.57 205.58 L318.74 206.07 L318.90 206.58 L319.07 207.09 L319.23 207.61 L319.39 208.14 L319.56 208.67 L319.72 209.21 L319.89 209.75 L320.05 210.29 L320.22 210.83 L320.38 211.38 L320.55 211.92 L320.71 212.46 L320.87 213.00 L321.04 213.53 L321.20 214.06 L321.37 214.58 L321.53 215.09 L321.70 215.60 L321.86 216.10 L322.03 216.59 L322.19 217.06 L322.35 217.53 L322.52 217.98 L322.68 218.42 L322.89 218.94 L323.09 219.45 L323.30 219.92 L323.51 220.37 L323.71 220.80 L323.96 221.27 L324.20 221.69 L324.45 222.07 L324.74 222.46 L325.03 222.78 L325.35 223.07 L325.77 223.30 L326.30 223.40 L326.79 223.29 L327.20 223.05 L327.53 222.76 L327.82 222.45 L328.11 222.08 L328.36 221.72 L328.60 221.32 L328.85 220.89 L329.10 220.42 L329.30 220.01 L329.51 219.58 L329.71 219.13 L329.92 218.66 L330.12 218.18 L330.33 217.68 L330.53 217.18 L330.74 216.66 L330.95 216.14 L331.15 215.61 L331.36 215.07 L331.56 214.54 L331.77 214.00 L331.97 213.47 L332.18 212.93 L332.38 212.40 L332.59 211.88 L332.79 211.37 L333.00 210.87 L333.21 210.37 L333.41 209.90 L333.62 209.43 L333.82 208.98 L334.03 208.55 L334.23 208.14 L334.48 207.68 L334.73 207.24 L334.97 206.84 L335.22 206.48 L335.51 206.09 L335.80 205.77 L336.12 205.46 L336.49 205.20 L336.95 205.01 L337.52 204.97 L338.02 205.13 L338.43 205.37 L338.76 205.65 L339.08 205.99 L339.37 206.35 L339.66 206.75 L339.91 207.13 L340.15 207.55 L340.40 207.99 L340.65 208.46 L340.85 208.88 L341.06 209.31 L341.26 209.75 L341.47 210.21 L341.67 210.68 L341.88 211.16 L342.08 211.65 L342.29 212.15 L342.50 212.65 L342.70 213.16 L342.91 213.67 L343.11 214.18 L343.32 214.69 L343.52 215.20 L343.73 215.70 L343.93 216.21 L344.14 216.70 L344.35 217.19 L344.55 217.66 L344.76 218.13 L344.96 218.58 L345.17 219.02 L345.37 219.44 L345.58 219.85 L345.83 220.32 L346.07 220.75 L346.32 221.16 L346.57 221.54 L346.85 221.94 L347.14 222.30 L347.47 222.65 L347.80 222.93 L348.17 223.17 L348.62 223.35 L349.20 223.39 L349.69 223.26 L350.10 223.04 L350.47 222.76 L350.80 222.45 L351.09 222.13 L351.37 221.77 L351.66 221.37 L351.91 221.00 L352.16 220.60 L352.40 220.19 L352.65 219.75 L352.90 219.30 L353.14 218.83 L353.35 218.43 L353.55 218.02 L353.76 217.61 L353.96 217.19 L354.17 216.76 L354.38 216.34 L354.58 215.91 L354.79 215.49 L354.99 215.07 L355.20 214.65 L355.40 214.23 L355.61 213.83 L355.81 213.43 L356.06 212.96 L356.31 212.51 L356.55 212.07 L356.80 211.66 L357.05 211.26 L357.29 210.89 L357.58 210.49 L357.87 210.13 L358.16 209.80 L358.49 209.47 L358.86 209.17 L359.27 208.93 L359.72 208.76 L360.29 208.72 L360.79 208.83 L361.20 209.03 L361.57 209.30 L361.90 209.59 L362.23 209.94 L362.51 210.28 L362.80 210.66 L363.09 211.07 L363.34 211.44 L363.58 211.84 L363.83 212.26 L364.08 212.69 L364.32 213.13 L364.57 213.59 L364.82 214.06 L365.02 214.46 L365.23 214.86 L365.43 215.26 L365.64 215.67 L365.84 216.08 L366.05 216.48 L366.25 216.89 L366.46 217.29 L366.67 217.69 L366.91 218.16 L367.16 218.62 L367.41 219.06 L367.65 219.50 L367.90 219.92 L368.15 220.32 L368.39 220.70 L368.64 221.06 L368.93 221.46 L369.21 221.82 L369.50 222.15 L369.83 222.48 L370.16 222.76 L370.53 223.02 L370.94 223.23 L371.43 223.37 L372.05 223.38 L372.54 223.26 L373.00 223.05 L373.37 222.81 L373.74 222.52 L374.06 222.21 L374.39 221.86 L374.68 221.53 L374.97 221.18 L375.26 220.80 L375.54 220.40 L375.83 219.99 L376.08 219.62 L376.33 219.25 L376.57 218.87 L376.82 218.49 L377.07 218.10 L377.31 217.71 L377.56 217.33 L377.81 216.94 L378.05 216.56 L378.30 216.19 L378.55 215.83 L378.83 215.42 L379.12 215.02 L379.41 214.65 L379.70 214.30 L379.98 213.96 L380.31 213.62 L380.64 213.31 L380.97 213.04 L381.34 212.78 L381.75 212.56 L382.20 212.39 L382.74 212.31 L383.31 212.35 L383.81 212.50 L384.22 212.70 L384.59 212.94 L384.96 213.22 L385.29 213.51 L385.62 213.84 L385.90 214.15 L386.19 214.49 L386.48 214.84 L386.77 215.22 L387.05 215.61 L387.34 216.01 L387.63 216.42 L387.88 216.78 L388.12 217.15 L388.37 217.51 L388.62 217.88 L388.86 218.25 L389.11 218.62 L389.36 218.98 L389.60 219.34 L389.89 219.74 L390.18 220.14 L390.47 220.52 L390.75 220.88 L391.04 221.23 L391.33 221.55 L391.66 221.90 L391.99 222.21 L392.32 222.49 L392.69 222.77 L393.10 223.02 L393.55 223.22 L394.04 223.35 L394.62 223.40 L395.15 223.33 L395.64 223.18 L396.06 222.99 L396.47 222.75 L396.84 222.49 L397.21 222.19 L397.54 221.90 L397.70 221.74" stroke="#009900" stroke-width="2.4" stroke-dasharray="3.3 2.3" stroke-dashoffset="0"/>
</g>
<g stroke="#999999" stroke-width="1" fill="none">
<line x1="63.00" y1="170.50" x2="66.00" y2="170.50"/><line x1="63.00" y1="117.50" x2="66.00" y2="117.50"/><line x1="63.00" y1="65.50" x2="66.00" y2="65.50"/><line x1="68.50" y1="223.00" x2="68.50" y2="220.00"/><line x1="178.50" y1="223.00" x2="178.50" y2="220.00"/><line x1="288.50" y1="223.00" x2="288.50" y2="220.00"/><line x1="397.50" y1="223.00" x2="397.50" y2="220.00"/>
</g>
<text transform="translate(46.91,18.00) rotate(0.03) scale(1.090,1)" font-size="24.5">2</text>
<text transform="translate(31.46,71.00) rotate(0.03) scale(0.868,1)" font-size="24.5">1.5</text>
<text transform="translate(48.35,124.00) rotate(0.03) scale(0.800,1)" font-size="24.5">1</text>
<text transform="translate(30.53,177.00) rotate(0.03) scale(0.900,1)" font-size="24.5">0.5</text>
<text transform="translate(47.26,230.50) rotate(0.03) scale(0.986,1)" font-size="24.5">0</text>
<text transform="translate(63.55,245.00) rotate(0.03) scale(0.896,1)" font-size="24.5">4</text>
<text transform="translate(172.53,245.00) rotate(0.03) scale(0.971,1)" font-size="24.5">6</text>
<text transform="translate(282.82,245.00) rotate(0.03) scale(0.902,1)" font-size="24.5">8</text>
<text transform="translate(387.20,245.00) rotate(0.03) scale(0.901,1)" font-size="24.5">10</text>
<text transform="translate(203.87,275.00) rotate(0.03) scale(1.033,1)" font-size="23.5" font-style="italic">t</text>
<text transform="translate(210.71,279.00) rotate(0.03) scale(1.300,1)" font-size="16.5" font-style="italic">f</text>
<text transform="translate(226.02,275.00) rotate(0.03) scale(0.880,1)" font-size="23.5">(</text>
<text transform="translate(233.30,275.00) rotate(0.03) scale(1.091,1)" font-size="23.5" font-style="italic">μ</text>
<text transform="translate(245.07,275.00) rotate(0.03) scale(1.131,1)" font-size="23.5">s</text>
<text transform="translate(255.86,275.00) rotate(0.03) scale(0.850,1)" font-size="23.5">)</text>
<text transform="translate(17.00,149.06) rotate(-90.03) scale(0.954,1)" font-size="23.5" font-style="italic">E</text>
<text transform="translate(21.00,136.28) rotate(-90.03) scale(0.960,1)" font-size="16.5">e</text>
<text transform="translate(21.00,128.75) rotate(-90.03) scale(0.800,1)" font-size="16.5">x</text>
<text transform="translate(19.30,119.50) rotate(-90.03) scale(0.800,1)" font-size="23.5">/</text>
<text transform="translate(17.00,112.42) rotate(-90.03) scale(1.100,1)" font-size="23.5" font-style="italic">h</text>
<text transform="translate(17.00,98.80) rotate(-90.03) scale(0.800,1)" font-size="23.5" font-style="italic">ω</text>
<line x1="7.0" y1="112.3" x2="5.6" y2="106.0" stroke="#000" stroke-width="1"/>

</svg>
</body></html>
